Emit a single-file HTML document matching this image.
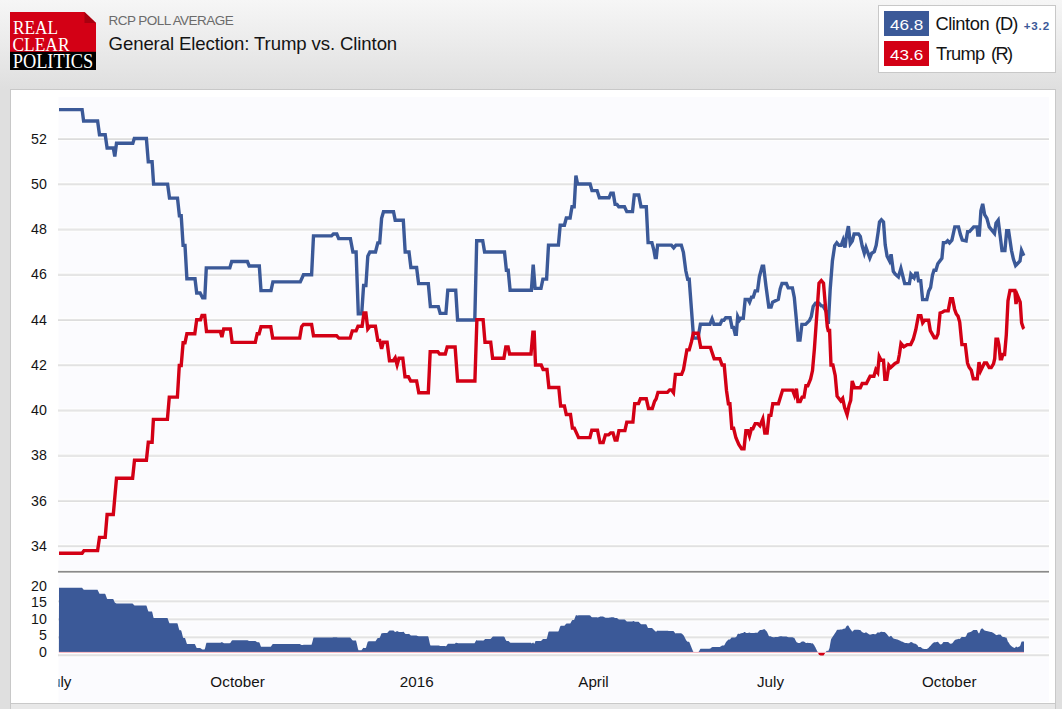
<!DOCTYPE html>
<html><head><meta charset="utf-8"><title>RCP Poll Average</title>
<style>
html,body{margin:0;padding:0}
body{width:1062px;height:709px;overflow:hidden;position:relative;font-family:"Liberation Sans",sans-serif;
background:linear-gradient(to bottom,#f6f6f6 0px,#ececec 40px,#dfdfdf 89px,#dfdfdf 709px);}
#outer{position:absolute;left:10px;top:89px;width:1046px;height:640px;background:#e8e8e8;border:1px solid #c8c8c8;box-sizing:border-box}
#card{position:absolute;left:0;top:0;width:1044px;height:613px;background:#fff;border-bottom:1px solid #c9c9c9}
#logo{position:absolute;left:10px;top:12px;width:86px;height:58px}
</style></head><body>
<div id="outer"><div id="card"></div></div>
<svg width="1062" height="709" viewBox="0 0 1062 709" style="position:absolute;left:0;top:0">
<rect x="58.5" y="97" width="990.5" height="605" fill="#fbfbfe"/>
<rect x="58.5" y="136.80" width="990.5" height="4.4" fill="#fefefe"/>
<rect x="58" y="138.00" width="991.0" height="1" fill="#e4e4e4"/>
<rect x="58" y="139.00" width="991.0" height="1" fill="#dcdcdc"/>
<rect x="58.5" y="182.04" width="990.5" height="4.4" fill="#fefefe"/>
<rect x="58" y="183.24" width="991.0" height="1" fill="#e4e4e4"/>
<rect x="58" y="184.24" width="991.0" height="1" fill="#dcdcdc"/>
<rect x="58.5" y="227.28" width="990.5" height="4.4" fill="#fefefe"/>
<rect x="58" y="228.48" width="991.0" height="1" fill="#e4e4e4"/>
<rect x="58" y="229.48" width="991.0" height="1" fill="#dcdcdc"/>
<rect x="58.5" y="272.52" width="990.5" height="4.4" fill="#fefefe"/>
<rect x="58" y="273.72" width="991.0" height="1" fill="#e4e4e4"/>
<rect x="58" y="274.72" width="991.0" height="1" fill="#dcdcdc"/>
<rect x="58.5" y="317.76" width="990.5" height="4.4" fill="#fefefe"/>
<rect x="58" y="318.96" width="991.0" height="1" fill="#e4e4e4"/>
<rect x="58" y="319.96" width="991.0" height="1" fill="#dcdcdc"/>
<rect x="58.5" y="363.00" width="990.5" height="4.4" fill="#fefefe"/>
<rect x="58" y="364.20" width="991.0" height="1" fill="#e4e4e4"/>
<rect x="58" y="365.20" width="991.0" height="1" fill="#dcdcdc"/>
<rect x="58.5" y="408.24" width="990.5" height="4.4" fill="#fefefe"/>
<rect x="58" y="409.44" width="991.0" height="1" fill="#e4e4e4"/>
<rect x="58" y="410.44" width="991.0" height="1" fill="#dcdcdc"/>
<rect x="58.5" y="453.48" width="990.5" height="4.4" fill="#fefefe"/>
<rect x="58" y="454.68" width="991.0" height="1" fill="#e4e4e4"/>
<rect x="58" y="455.68" width="991.0" height="1" fill="#dcdcdc"/>
<rect x="58.5" y="498.72" width="990.5" height="4.4" fill="#fefefe"/>
<rect x="58" y="499.92" width="991.0" height="1" fill="#e4e4e4"/>
<rect x="58" y="500.92" width="991.0" height="1" fill="#dcdcdc"/>
<rect x="58.5" y="543.96" width="990.5" height="4.4" fill="#fefefe"/>
<rect x="58" y="545.16" width="991.0" height="1" fill="#e4e4e4"/>
<rect x="58" y="546.16" width="991.0" height="1" fill="#dcdcdc"/>
<rect x="58.5" y="599.10" width="990.5" height="4.4" fill="#fefefe"/>
<rect x="58" y="600.30" width="991.0" height="1" fill="#e4e4e4"/>
<rect x="58" y="601.30" width="991.0" height="1" fill="#dcdcdc"/>
<rect x="58.5" y="617.10" width="990.5" height="4.4" fill="#fefefe"/>
<rect x="58" y="618.30" width="991.0" height="1" fill="#e4e4e4"/>
<rect x="58" y="619.30" width="991.0" height="1" fill="#dcdcdc"/>
<rect x="58.5" y="635.10" width="990.5" height="4.4" fill="#fefefe"/>
<rect x="58" y="636.30" width="991.0" height="1" fill="#e4e4e4"/>
<rect x="58" y="637.30" width="991.0" height="1" fill="#dcdcdc"/>
<rect x="58.5" y="653.00" width="990.5" height="4.4" fill="#fefefe"/>
<rect x="58" y="654.20" width="991.0" height="1" fill="#e4e4e4"/>
<rect x="58" y="655.20" width="991.0" height="1" fill="#dcdcdc"/>
<rect x="58.5" y="569.6" width="990.5" height="4.6" fill="#fefefe"/>
<rect x="58" y="570.9" width="991.0" height="1.1" fill="#8a8a8a"/>
<rect x="58" y="572" width="991.0" height="0.9" fill="#adadad"/>
<path d="M58.9,652.0 L59.0,587.8 L59.5,587.8 L60.0,587.8 L60.5,587.8 L61.0,587.8 L61.5,587.8 L62.0,587.8 L62.5,587.8 L63.0,587.8 L63.5,587.8 L64.0,587.8 L64.5,587.8 L65.0,587.8 L65.5,587.8 L66.0,587.8 L66.5,587.8 L67.0,587.8 L67.5,587.8 L68.0,587.8 L68.5,587.8 L69.0,587.8 L69.5,587.8 L70.0,587.8 L70.5,587.8 L71.0,587.8 L71.5,587.8 L72.0,587.8 L72.5,587.8 L73.0,587.8 L73.5,587.8 L74.0,587.8 L74.5,587.8 L75.0,587.8 L75.5,587.8 L76.0,587.8 L76.5,587.8 L77.0,587.8 L77.5,587.8 L78.0,587.8 L78.5,587.8 L79.0,587.8 L79.5,587.8 L80.0,587.8 L80.5,587.8 L81.0,587.8 L81.5,587.8 L82.0,587.8 L82.5,588.3 L83.0,589.0 L83.5,589.6 L84.0,589.8 L84.5,589.8 L85.0,589.8 L85.5,589.8 L86.0,589.8 L86.5,589.8 L87.0,589.8 L87.5,589.8 L88.0,589.8 L88.5,589.8 L89.0,589.8 L89.5,589.8 L90.0,589.8 L90.5,589.8 L91.0,589.8 L91.5,589.8 L92.0,589.8 L92.5,589.8 L93.0,589.8 L93.5,589.8 L94.0,589.8 L94.5,589.8 L95.0,589.8 L95.5,589.8 L96.0,589.8 L96.5,589.8 L97.0,589.8 L97.5,589.8 L98.0,590.7 L98.5,591.7 L99.0,592.7 L99.5,593.7 L100.0,593.7 L100.5,593.7 L101.0,593.7 L101.5,593.7 L102.0,593.7 L102.5,593.7 L103.0,593.7 L103.5,593.7 L104.0,593.7 L104.5,593.7 L105.0,593.7 L105.5,594.6 L106.0,595.9 L106.5,597.3 L107.0,598.7 L107.5,599.0 L108.0,599.0 L108.5,599.0 L109.0,599.0 L109.5,599.0 L110.0,599.0 L110.5,599.0 L111.0,599.0 L111.5,599.0 L112.0,599.0 L112.5,599.0 L113.0,599.0 L113.5,599.5 L114.0,600.7 L114.5,601.9 L115.0,602.8 L115.5,603.0 L116.0,603.3 L116.5,603.5 L117.0,603.5 L117.5,603.5 L118.0,603.5 L118.5,603.5 L119.0,603.5 L119.5,603.5 L120.0,603.5 L120.5,603.5 L121.0,603.5 L121.5,603.5 L122.0,603.5 L122.5,603.5 L123.0,603.5 L123.5,603.5 L124.0,603.5 L124.5,603.5 L125.0,603.5 L125.5,603.5 L126.0,603.5 L126.5,603.5 L127.0,603.5 L127.5,603.5 L128.0,603.5 L128.5,603.5 L129.0,603.5 L129.5,603.5 L130.0,603.5 L130.5,603.5 L131.0,603.5 L131.5,603.5 L132.0,603.5 L132.5,603.5 L133.0,604.0 L133.5,604.5 L134.0,604.9 L134.5,605.5 L135.0,605.5 L135.5,605.5 L136.0,605.5 L136.5,605.5 L137.0,605.5 L137.5,605.5 L138.0,605.5 L138.5,605.5 L139.0,605.5 L139.5,605.5 L140.0,605.5 L140.5,605.5 L141.0,605.5 L141.5,605.5 L142.0,605.5 L142.5,605.5 L143.0,605.5 L143.5,605.5 L144.0,605.5 L144.5,605.5 L145.0,605.5 L145.5,605.5 L146.0,605.5 L146.5,605.8 L147.0,607.3 L147.5,608.9 L148.0,610.5 L148.5,611.4 L149.0,611.4 L149.5,611.4 L150.0,611.4 L150.5,611.4 L151.0,611.4 L151.5,611.4 L152.0,611.4 L152.5,613.3 L153.0,615.6 L153.5,617.7 L154.0,618.0 L154.5,618.0 L155.0,618.0 L155.5,618.0 L156.0,618.0 L156.5,618.0 L157.0,618.0 L157.5,618.0 L158.0,618.0 L158.5,618.0 L159.0,618.0 L159.5,618.0 L160.0,618.0 L160.5,618.0 L161.0,618.0 L161.5,618.0 L162.0,618.0 L162.5,618.0 L163.0,618.0 L163.5,618.0 L164.0,618.0 L164.5,618.0 L165.0,618.0 L165.5,618.0 L166.0,618.0 L166.5,618.0 L167.0,618.0 L167.5,618.1 L168.0,619.4 L168.5,620.8 L169.0,622.2 L169.5,623.2 L170.0,623.2 L170.5,623.2 L171.0,623.2 L171.5,623.2 L172.0,623.2 L172.5,623.2 L173.0,623.2 L173.5,623.2 L174.0,623.2 L174.5,623.2 L175.0,623.2 L175.5,623.2 L176.0,623.2 L176.5,623.2 L177.0,623.2 L177.5,623.4 L178.0,625.3 L178.5,627.2 L179.0,629.1 L179.5,630.3 L180.0,630.3 L180.5,630.3 L181.0,630.3 L181.5,631.5 L182.0,633.5 L182.5,635.5 L183.0,637.5 L183.5,637.9 L184.0,637.9 L184.5,637.9 L185.0,637.9 L185.5,639.5 L186.0,641.1 L186.5,642.8 L187.0,644.1 L187.5,644.1 L188.0,644.1 L188.5,644.1 L189.0,644.1 L189.5,644.1 L190.0,644.1 L190.5,644.1 L191.0,644.1 L191.5,644.1 L192.0,644.1 L192.5,644.1 L193.0,644.1 L193.5,644.1 L194.0,644.1 L194.5,644.1 L195.0,644.3 L195.5,645.4 L196.0,646.5 L196.5,647.7 L197.0,648.1 L197.5,648.1 L198.0,648.1 L198.5,648.1 L199.0,648.1 L199.5,648.1 L200.0,648.1 L200.5,648.2 L201.0,648.6 L201.5,648.9 L202.0,649.3 L202.5,649.4 L203.0,649.4 L203.5,649.4 L204.0,649.4 L204.5,649.4 L205.0,648.5 L205.5,646.4 L206.0,644.3 L206.5,642.8 L207.0,642.8 L207.5,642.8 L208.0,642.8 L208.5,642.8 L209.0,642.8 L209.5,642.8 L210.0,642.8 L210.5,642.8 L211.0,642.8 L211.5,642.8 L212.0,642.8 L212.5,642.8 L213.0,642.8 L213.5,642.8 L214.0,642.8 L214.5,642.8 L215.0,642.8 L215.5,642.8 L216.0,642.8 L216.5,642.8 L217.0,642.8 L217.5,642.8 L218.0,642.8 L218.5,642.8 L219.0,642.8 L219.5,642.8 L220.0,642.8 L220.5,642.7 L221.0,642.4 L221.5,642.2 L222.0,642.1 L222.5,642.4 L223.0,642.7 L223.5,643.0 L224.0,643.2 L224.5,643.2 L225.0,643.2 L225.5,643.2 L226.0,643.2 L226.5,643.2 L227.0,643.2 L227.5,643.2 L228.0,643.2 L228.5,643.2 L229.0,643.2 L229.5,643.2 L230.0,643.1 L230.5,642.7 L231.0,641.9 L231.5,641.1 L232.0,640.4 L232.5,640.3 L233.0,640.3 L233.5,640.3 L234.0,640.3 L234.5,640.3 L235.0,640.3 L235.5,640.3 L236.0,640.3 L236.5,640.3 L237.0,640.3 L237.5,640.3 L238.0,640.3 L238.5,640.3 L239.0,640.3 L239.5,640.3 L240.0,640.3 L240.5,640.3 L241.0,640.3 L241.5,640.3 L242.0,640.3 L242.5,640.3 L243.0,640.3 L243.5,640.3 L244.0,640.3 L244.5,640.3 L245.0,640.3 L245.5,640.3 L246.0,640.3 L246.5,640.3 L247.0,640.3 L247.5,640.3 L248.0,640.5 L248.5,640.7 L249.0,640.9 L249.5,640.9 L250.0,640.9 L250.5,640.9 L251.0,640.9 L251.5,640.9 L252.0,640.9 L252.5,640.9 L253.0,640.9 L253.5,640.9 L254.0,640.9 L254.5,640.9 L255.0,640.9 L255.5,641.1 L256.0,641.4 L256.5,641.7 L257.0,642.1 L257.5,642.2 L258.0,642.2 L258.5,642.2 L259.0,642.2 L259.5,642.8 L260.0,644.1 L260.5,645.5 L261.0,646.8 L261.5,646.8 L262.0,646.8 L262.5,646.8 L263.0,646.8 L263.5,646.8 L264.0,646.8 L264.5,646.8 L265.0,646.8 L265.5,646.8 L266.0,646.8 L266.5,646.8 L267.0,646.8 L267.5,646.8 L268.0,646.8 L268.5,646.8 L269.0,646.8 L269.5,646.8 L270.0,646.8 L270.5,646.8 L271.0,646.6 L271.5,645.8 L272.0,645.1 L272.5,644.3 L273.0,643.9 L273.5,643.9 L274.0,643.9 L274.5,643.9 L275.0,643.9 L275.5,643.9 L276.0,643.9 L276.5,643.9 L277.0,643.9 L277.5,643.9 L278.0,643.9 L278.5,643.9 L279.0,643.9 L279.5,643.9 L280.0,643.9 L280.5,643.9 L281.0,643.9 L281.5,643.9 L282.0,643.9 L282.5,643.9 L283.0,643.9 L283.5,643.9 L284.0,643.9 L284.5,643.9 L285.0,643.9 L285.5,643.9 L286.0,643.9 L286.5,643.9 L287.0,643.9 L287.5,643.9 L288.0,643.9 L288.5,643.9 L289.0,643.9 L289.5,643.9 L290.0,643.9 L290.5,643.9 L291.0,643.9 L291.5,643.9 L292.0,643.9 L292.5,643.9 L293.0,643.9 L293.5,643.9 L294.0,643.9 L294.5,643.9 L295.0,643.9 L295.5,643.9 L296.0,643.9 L296.5,643.9 L297.0,643.9 L297.5,643.9 L298.0,643.9 L298.5,643.9 L299.0,643.9 L299.5,643.9 L300.0,644.1 L300.5,644.5 L301.0,644.8 L301.5,645.0 L302.0,645.0 L302.5,645.0 L303.0,644.9 L303.5,644.8 L304.0,644.8 L304.5,644.8 L305.0,644.8 L305.5,644.8 L306.0,644.8 L306.5,644.8 L307.0,644.8 L307.5,644.8 L308.0,644.8 L308.5,644.8 L309.0,644.8 L309.5,644.8 L310.0,644.8 L310.5,644.8 L311.0,644.8 L311.5,644.8 L312.0,643.3 L312.5,641.4 L313.0,639.5 L313.5,637.5 L314.0,637.5 L314.5,637.5 L315.0,637.5 L315.5,637.5 L316.0,637.5 L316.5,637.5 L317.0,637.5 L317.5,637.5 L318.0,637.5 L318.5,637.5 L319.0,637.5 L319.5,637.5 L320.0,637.5 L320.5,637.5 L321.0,637.5 L321.5,637.5 L322.0,637.5 L322.5,637.5 L323.0,637.5 L323.5,637.5 L324.0,637.5 L324.5,637.5 L325.0,637.5 L325.5,637.5 L326.0,637.5 L326.5,637.5 L327.0,637.5 L327.5,637.5 L328.0,637.5 L328.5,637.5 L329.0,637.5 L329.5,637.5 L330.0,637.5 L330.5,637.5 L331.0,637.5 L331.5,637.5 L332.0,637.5 L332.5,637.4 L333.0,637.3 L333.5,637.3 L334.0,637.3 L334.5,637.3 L335.0,637.3 L335.5,637.3 L336.0,637.3 L336.5,637.3 L337.0,637.3 L337.5,637.4 L338.0,637.5 L338.5,637.6 L339.0,637.6 L339.5,637.6 L340.0,637.6 L340.5,637.6 L341.0,637.6 L341.5,637.6 L342.0,637.6 L342.5,637.6 L343.0,637.6 L343.5,637.6 L344.0,637.6 L344.5,637.6 L345.0,637.6 L345.5,637.6 L346.0,637.6 L346.5,637.6 L347.0,637.6 L347.5,637.6 L348.0,637.6 L348.5,637.6 L349.0,637.6 L349.5,637.6 L350.0,637.6 L350.5,637.8 L351.0,638.5 L351.5,639.1 L352.0,639.7 L352.5,640.3 L353.0,640.6 L353.5,640.6 L354.0,640.6 L354.5,640.6 L355.0,640.6 L355.5,640.6 L356.0,640.6 L356.5,642.4 L357.0,644.6 L357.5,646.8 L358.0,649.0 L358.5,650.2 L359.0,650.2 L359.5,650.2 L360.0,650.2 L360.5,650.2 L361.0,650.2 L361.5,650.2 L362.0,649.6 L362.5,648.9 L363.0,648.3 L363.5,647.7 L364.0,648.0 L364.5,648.0 L365.0,648.0 L365.5,648.0 L366.0,647.7 L366.5,646.0 L367.0,644.2 L367.5,642.5 L368.0,641.4 L368.5,641.4 L369.0,641.3 L369.5,641.3 L370.0,641.2 L370.5,641.3 L371.0,641.3 L371.5,641.3 L372.0,641.3 L372.5,641.3 L373.0,641.3 L373.5,641.3 L374.0,641.3 L374.5,641.3 L375.0,641.3 L375.5,641.2 L376.0,640.5 L376.5,639.7 L377.0,639.0 L377.5,638.3 L378.0,637.9 L378.5,637.9 L379.0,637.9 L379.5,637.9 L380.0,637.1 L380.5,635.9 L381.0,634.6 L381.5,633.4 L382.0,633.1 L382.5,633.2 L383.0,633.2 L383.5,633.1 L384.0,633.1 L384.5,633.1 L385.0,633.1 L385.5,633.1 L386.0,633.1 L386.5,633.1 L387.0,633.1 L387.5,632.7 L388.0,632.1 L388.5,631.5 L389.0,631.0 L389.5,630.4 L390.0,630.4 L390.5,630.4 L391.0,630.4 L391.5,630.4 L392.0,630.4 L392.5,630.4 L393.0,630.4 L393.5,630.5 L394.0,630.9 L394.5,631.4 L395.0,631.9 L395.5,631.9 L396.0,631.6 L396.5,631.4 L397.0,631.1 L397.5,631.3 L398.0,631.5 L398.5,631.8 L399.0,632.0 L399.5,632.0 L400.0,632.0 L400.5,632.0 L401.0,632.0 L401.5,632.0 L402.0,632.0 L402.5,632.0 L403.0,631.8 L403.5,631.7 L404.0,632.3 L404.5,632.9 L405.0,633.5 L405.5,634.0 L406.0,634.0 L406.5,634.0 L407.0,634.0 L407.5,634.0 L408.0,634.0 L408.5,633.9 L409.0,633.8 L409.5,634.2 L410.0,634.7 L410.5,635.2 L411.0,635.6 L411.5,635.6 L412.0,635.6 L412.5,635.6 L413.0,635.6 L413.5,635.6 L414.0,635.6 L414.5,635.6 L415.0,635.6 L415.5,635.6 L416.0,635.6 L416.5,635.6 L417.0,635.7 L417.5,635.9 L418.0,636.1 L418.5,636.3 L419.0,636.2 L419.5,636.2 L420.0,636.2 L420.5,636.2 L421.0,636.2 L421.5,636.2 L422.0,636.2 L422.5,636.2 L423.0,636.2 L423.5,636.2 L424.0,636.2 L424.5,636.2 L425.0,636.2 L425.5,636.2 L426.0,636.2 L426.5,636.2 L427.0,636.2 L427.5,636.2 L428.0,636.2 L428.5,637.2 L429.0,639.5 L429.5,641.9 L430.0,644.2 L430.5,645.5 L431.0,645.5 L431.5,645.5 L432.0,645.5 L432.5,645.5 L433.0,645.5 L433.5,645.5 L434.0,645.5 L434.5,645.5 L435.0,645.5 L435.5,645.5 L436.0,645.5 L436.5,645.5 L437.0,645.5 L437.5,645.5 L438.0,645.4 L438.5,645.4 L439.0,645.6 L439.5,645.8 L440.0,646.0 L440.5,646.1 L441.0,646.1 L441.5,646.1 L442.0,646.1 L442.5,646.1 L443.0,646.1 L443.5,646.1 L444.0,646.1 L444.5,646.1 L445.0,646.1 L445.5,646.2 L446.0,646.3 L446.5,645.7 L447.0,645.1 L447.5,644.3 L448.0,643.8 L448.5,643.8 L449.0,643.8 L449.5,643.8 L450.0,643.8 L450.5,643.8 L451.0,643.8 L451.5,643.8 L452.0,643.8 L452.5,643.8 L453.0,643.8 L453.5,643.8 L454.0,643.8 L454.5,643.8 L455.0,643.8 L455.5,643.0 L456.0,642.7 L456.5,642.8 L457.0,643.0 L457.5,643.1 L458.0,643.2 L458.5,643.2 L459.0,643.2 L459.5,643.2 L460.0,643.2 L460.5,643.2 L461.0,643.2 L461.5,643.2 L462.0,643.2 L462.5,643.2 L463.0,643.2 L463.5,643.2 L464.0,643.2 L464.5,643.2 L465.0,643.2 L465.5,643.2 L466.0,643.2 L466.5,643.2 L467.0,643.2 L467.5,643.2 L468.0,643.2 L468.5,643.2 L469.0,643.2 L469.5,643.2 L470.0,643.2 L470.5,643.2 L471.0,643.2 L471.5,643.2 L472.0,643.2 L472.5,643.2 L473.0,643.2 L473.5,643.2 L474.0,643.2 L474.5,643.2 L475.0,642.4 L475.5,641.6 L476.0,640.8 L476.5,640.0 L477.0,640.6 L477.5,640.6 L478.0,640.6 L478.5,640.6 L479.0,640.6 L479.5,640.6 L480.0,640.6 L480.5,640.6 L481.0,640.6 L481.5,640.6 L482.0,640.6 L482.5,640.6 L483.0,640.8 L483.5,640.6 L484.0,640.1 L484.5,639.7 L485.0,638.9 L485.5,638.9 L486.0,638.9 L486.5,638.9 L487.0,638.9 L487.5,638.9 L488.0,638.9 L488.5,638.9 L489.0,638.9 L489.5,638.9 L490.0,638.9 L490.5,638.9 L491.0,638.6 L491.5,638.0 L492.0,637.4 L492.5,636.7 L493.0,636.6 L493.5,636.6 L494.0,636.6 L494.5,636.6 L495.0,636.6 L495.5,636.6 L496.0,636.6 L496.5,636.6 L497.0,636.6 L497.5,636.6 L498.0,636.6 L498.5,636.6 L499.0,636.6 L499.5,636.6 L500.0,636.6 L500.5,636.6 L501.0,636.6 L501.5,636.6 L502.0,636.6 L502.5,636.6 L503.0,636.6 L503.5,636.6 L504.0,636.7 L504.5,637.1 L505.0,638.3 L505.5,639.4 L506.0,640.3 L506.5,640.9 L507.0,640.9 L507.5,640.9 L508.0,640.9 L508.5,641.1 L509.0,641.5 L509.5,641.9 L510.0,642.6 L510.5,642.8 L511.0,642.8 L511.5,642.8 L512.0,642.8 L512.5,642.8 L513.0,642.8 L513.5,642.8 L514.0,642.8 L514.5,642.8 L515.0,642.8 L515.5,642.8 L516.0,642.8 L516.5,642.8 L517.0,642.8 L517.5,642.8 L518.0,642.8 L518.5,642.8 L519.0,642.8 L519.5,642.8 L520.0,642.8 L520.5,642.8 L521.0,642.8 L521.5,642.8 L522.0,642.8 L522.5,642.8 L523.0,642.8 L523.5,642.8 L524.0,642.8 L524.5,642.8 L525.0,642.8 L525.5,642.8 L526.0,642.8 L526.5,642.8 L527.0,642.8 L527.5,642.8 L528.0,642.8 L528.5,642.8 L529.0,642.8 L529.5,642.8 L530.0,642.8 L530.5,642.8 L531.0,642.8 L531.5,643.4 L532.0,643.2 L532.5,643.0 L533.0,642.6 L533.5,642.7 L534.0,643.7 L534.5,643.5 L535.0,642.6 L535.5,640.9 L536.0,640.9 L536.5,640.9 L537.0,640.9 L537.5,640.9 L538.0,640.9 L538.5,640.9 L539.0,640.9 L539.5,640.9 L540.0,640.9 L540.5,640.9 L541.0,640.9 L541.5,640.5 L542.0,639.9 L542.5,639.4 L543.0,639.0 L543.5,638.9 L544.0,638.9 L544.5,638.9 L545.0,638.9 L545.5,638.9 L546.0,638.9 L546.5,638.9 L547.0,637.9 L547.5,635.9 L548.0,633.9 L548.5,631.9 L549.0,631.4 L549.5,631.4 L550.0,631.4 L550.5,631.4 L551.0,631.4 L551.5,631.4 L552.0,631.4 L552.5,631.4 L553.0,631.4 L553.5,631.4 L554.0,631.4 L554.5,631.4 L555.0,631.4 L555.5,631.4 L556.0,631.4 L556.5,631.4 L557.0,631.4 L557.5,631.4 L558.0,631.4 L558.5,631.2 L559.0,630.1 L559.5,628.6 L560.0,627.1 L560.5,626.0 L561.0,625.8 L561.5,625.8 L562.0,625.8 L562.5,625.8 L563.0,625.8 L563.5,625.8 L564.0,625.8 L564.5,625.7 L565.0,625.1 L565.5,624.5 L566.0,623.9 L566.5,623.6 L567.0,623.6 L567.5,623.6 L568.0,623.6 L568.5,623.6 L569.0,623.6 L569.5,623.6 L570.0,623.6 L570.5,623.2 L571.0,622.3 L571.5,621.3 L572.0,620.4 L572.5,620.0 L573.0,620.0 L573.5,620.0 L574.0,620.0 L574.5,619.1 L575.0,617.6 L575.5,616.2 L576.0,615.0 L576.5,615.2 L577.0,615.4 L577.5,615.6 L578.0,615.5 L578.5,615.3 L579.0,615.3 L579.5,615.3 L580.0,615.3 L580.5,615.3 L581.0,615.3 L581.5,615.3 L582.0,615.3 L582.5,615.3 L583.0,615.3 L583.5,615.3 L584.0,615.3 L584.5,615.3 L585.0,615.3 L585.5,615.3 L586.0,615.3 L586.5,615.3 L587.0,615.3 L587.5,615.3 L588.0,615.3 L588.5,615.3 L589.0,615.3 L589.5,615.3 L590.0,615.4 L590.5,615.8 L591.0,616.4 L591.5,616.9 L592.0,617.3 L592.5,617.3 L593.0,617.3 L593.5,617.3 L594.0,617.3 L594.5,617.3 L595.0,617.3 L595.5,617.3 L596.0,617.3 L596.5,617.3 L597.0,617.3 L597.5,617.5 L598.0,617.4 L598.5,617.3 L599.0,617.1 L599.5,617.0 L600.0,616.6 L600.5,616.6 L601.0,616.6 L601.5,616.6 L602.0,616.6 L602.5,616.6 L603.0,616.6 L603.5,616.7 L604.0,617.0 L604.5,617.2 L605.0,617.5 L605.5,617.7 L606.0,617.7 L606.5,617.7 L607.0,617.7 L607.5,617.7 L608.0,617.7 L608.5,617.7 L609.0,617.8 L609.5,617.6 L610.0,617.5 L610.5,617.4 L611.0,617.3 L611.5,617.3 L612.0,617.3 L612.5,617.3 L613.0,617.3 L613.5,617.3 L614.0,617.5 L614.5,617.7 L615.0,617.9 L615.5,617.9 L616.0,617.9 L616.5,617.9 L617.0,617.9 L617.5,618.4 L618.0,618.8 L618.5,619.3 L619.0,619.6 L619.5,619.6 L620.0,619.6 L620.5,619.6 L621.0,619.6 L621.5,619.6 L622.0,619.6 L622.5,619.6 L623.0,619.6 L623.5,619.6 L624.0,619.6 L624.5,619.6 L625.0,619.8 L625.5,620.3 L626.0,620.8 L626.5,621.3 L627.0,621.5 L627.5,621.5 L628.0,621.5 L628.5,621.5 L629.0,621.5 L629.5,621.5 L630.0,621.5 L630.5,621.5 L631.0,621.5 L631.5,621.5 L632.0,621.5 L632.5,621.5 L633.0,621.0 L633.5,621.1 L634.0,621.2 L634.5,621.5 L635.0,621.8 L635.5,621.8 L636.0,621.8 L636.5,621.8 L637.0,621.8 L637.5,621.8 L638.0,621.8 L638.5,621.8 L639.0,622.2 L639.5,622.8 L640.0,623.3 L640.5,623.8 L641.0,624.2 L641.5,624.2 L642.0,624.2 L642.5,624.2 L643.0,624.2 L643.5,624.2 L644.0,624.2 L644.5,624.2 L645.0,624.2 L645.5,624.2 L646.0,624.2 L646.5,624.7 L647.0,625.8 L647.5,626.9 L648.0,628.0 L648.5,628.0 L649.0,628.0 L649.5,628.0 L650.0,628.0 L650.5,628.0 L651.0,628.0 L651.5,628.0 L652.0,628.1 L652.5,628.4 L653.0,628.9 L653.5,629.4 L654.0,630.0 L654.5,630.6 L655.0,631.1 L655.5,631.4 L656.0,631.5 L656.5,631.5 L657.0,631.0 L657.5,630.6 L658.0,630.7 L658.5,630.7 L659.0,630.7 L659.5,630.7 L660.0,630.7 L660.5,630.7 L661.0,630.7 L661.5,630.7 L662.0,630.7 L662.5,630.7 L663.0,630.7 L663.5,630.7 L664.0,630.7 L664.5,630.7 L665.0,630.7 L665.5,630.7 L666.0,630.7 L666.5,630.7 L667.0,630.7 L667.5,630.7 L668.0,630.8 L668.5,630.9 L669.0,630.9 L669.5,631.0 L670.0,631.0 L670.5,631.0 L671.0,631.0 L671.5,631.1 L672.0,631.1 L672.5,631.1 L673.0,631.0 L673.5,631.0 L674.0,631.7 L674.5,632.3 L675.0,632.9 L675.5,633.4 L676.0,633.3 L676.5,633.3 L677.0,633.3 L677.5,633.3 L678.0,633.3 L678.5,633.3 L679.0,633.3 L679.5,633.3 L680.0,633.3 L680.5,633.3 L681.0,633.3 L681.5,633.4 L682.0,633.8 L682.5,634.2 L683.0,634.7 L683.5,635.2 L684.0,636.1 L684.5,637.1 L685.0,638.1 L685.5,639.1 L686.0,639.9 L686.5,640.7 L687.0,641.3 L687.5,641.7 L688.0,641.8 L688.5,641.8 L689.0,641.8 L689.5,642.5 L690.0,643.7 L690.5,645.0 L691.0,646.2 L691.5,647.4 L692.0,648.7 L692.5,650.0 L693.0,651.3 L693.5,652.0 L694.0,652.0 L694.5,652.0 L695.0,652.0 L695.5,652.0 L696.0,652.0 L696.5,652.0 L697.0,652.0 L697.5,652.0 L698.0,652.0 L698.5,652.0 L699.0,651.2 L699.5,650.4 L700.0,649.5 L700.5,648.8 L701.0,648.7 L701.5,648.7 L702.0,648.7 L702.5,648.7 L703.0,648.7 L703.5,648.7 L704.0,648.7 L704.5,648.7 L705.0,648.7 L705.5,648.7 L706.0,648.7 L706.5,648.7 L707.0,648.7 L707.5,648.7 L708.0,648.7 L708.5,648.7 L709.0,648.7 L709.5,648.7 L710.0,648.6 L710.5,648.4 L711.0,648.0 L711.5,647.6 L712.0,647.2 L712.5,647.1 L713.0,647.1 L713.5,647.1 L714.0,647.1 L714.5,647.0 L715.0,647.0 L715.5,647.0 L716.0,647.0 L716.5,647.0 L717.0,647.0 L717.5,647.0 L718.0,647.0 L718.5,647.0 L719.0,647.0 L719.5,647.0 L720.0,646.9 L720.5,646.6 L721.0,646.3 L721.5,645.9 L722.0,645.6 L722.5,645.5 L723.0,645.5 L723.5,645.5 L724.0,645.5 L724.5,644.9 L725.0,644.0 L725.5,643.1 L726.0,642.3 L726.5,641.5 L727.0,641.0 L727.5,640.5 L728.0,640.0 L728.5,639.6 L729.0,639.6 L729.5,639.6 L730.0,639.4 L730.5,638.7 L731.0,638.2 L731.5,637.6 L732.0,637.4 L732.5,637.4 L733.0,637.4 L733.5,637.4 L734.0,637.5 L734.5,637.5 L735.0,637.5 L735.5,637.3 L736.0,637.0 L736.5,636.5 L737.0,635.4 L737.5,634.3 L738.0,633.8 L738.5,633.8 L739.0,633.8 L739.5,633.9 L740.0,633.7 L740.5,633.5 L741.0,633.3 L741.5,633.2 L742.0,633.1 L742.5,633.1 L743.0,633.1 L743.5,632.8 L744.0,632.1 L744.5,632.1 L745.0,632.1 L745.5,632.5 L746.0,633.0 L746.5,633.0 L747.0,633.0 L747.5,633.0 L748.0,632.9 L748.5,632.8 L749.0,632.7 L749.5,632.6 L750.0,632.8 L750.5,632.9 L751.0,632.9 L751.5,633.0 L752.0,633.0 L752.5,633.0 L753.0,633.0 L753.5,633.1 L754.0,633.0 L754.5,632.9 L755.0,632.8 L755.5,632.8 L756.0,632.8 L756.5,632.8 L757.0,632.8 L757.5,632.8 L758.0,632.2 L758.5,631.6 L759.0,631.0 L759.5,630.4 L760.0,630.1 L760.5,630.0 L761.0,630.0 L761.5,629.9 L762.0,629.8 L762.5,629.8 L763.0,629.7 L763.5,629.2 L764.0,629.2 L764.5,629.3 L765.0,629.6 L765.5,630.2 L766.0,630.8 L766.5,631.3 L767.0,631.8 L767.5,632.9 L768.0,634.1 L768.5,635.3 L769.0,636.3 L769.5,636.3 L770.0,636.3 L770.5,636.3 L771.0,636.4 L771.5,636.7 L772.0,636.9 L772.5,637.1 L773.0,637.3 L773.5,637.2 L774.0,637.2 L774.5,637.2 L775.0,637.1 L775.5,637.1 L776.0,637.1 L776.5,637.0 L777.0,637.0 L777.5,637.0 L778.0,636.9 L778.5,636.8 L779.0,636.6 L779.5,636.5 L780.0,636.3 L780.5,636.3 L781.0,636.3 L781.5,636.3 L782.0,636.3 L782.5,636.5 L783.0,636.6 L783.5,636.6 L784.0,636.6 L784.5,636.6 L785.0,636.6 L785.5,636.6 L786.0,636.6 L786.5,636.6 L787.0,636.8 L787.5,637.0 L788.0,637.1 L788.5,637.2 L789.0,637.2 L789.5,637.2 L790.0,637.2 L790.5,637.2 L791.0,637.2 L791.5,637.2 L792.0,637.2 L792.5,637.3 L793.0,637.5 L793.5,637.7 L794.0,637.8 L794.5,638.2 L795.0,639.2 L795.5,640.2 L796.0,641.2 L796.5,642.1 L797.0,642.4 L797.5,642.6 L798.0,642.9 L798.5,643.1 L799.0,643.1 L799.5,643.1 L800.0,643.1 L800.5,642.6 L801.0,642.2 L801.5,641.8 L802.0,641.4 L802.5,641.5 L803.0,641.5 L803.5,641.5 L804.0,641.5 L804.5,641.9 L805.0,642.3 L805.5,642.8 L806.0,643.1 L806.5,643.0 L807.0,642.9 L807.5,642.8 L808.0,642.8 L808.5,642.9 L809.0,643.0 L809.5,643.1 L810.0,643.1 L810.5,643.1 L811.0,643.3 L811.5,643.4 L812.0,643.3 L812.5,643.2 L813.0,643.7 L813.5,644.3 L814.0,645.0 L814.5,645.8 L815.0,646.7 L815.5,647.6 L816.0,648.7 L816.5,649.7 L817.0,650.7 L817.5,651.8 L818.0,652.0 L818.5,652.0 L819.0,652.0 L819.5,652.0 L820.0,652.0 L820.5,652.0 L821.0,652.0 L821.5,652.0 L822.0,652.0 L822.5,652.0 L823.0,652.0 L823.5,652.0 L824.0,652.0 L824.5,652.0 L825.0,652.0 L825.5,652.0 L826.0,651.8 L826.5,651.1 L827.0,650.8 L827.5,650.7 L828.0,650.9 L828.5,650.5 L829.0,649.2 L829.5,647.9 L830.0,645.1 L830.5,642.2 L831.0,639.5 L831.5,638.6 L832.0,637.7 L832.5,636.9 L833.0,636.3 L833.5,635.5 L834.0,634.7 L834.5,633.9 L835.0,633.3 L835.5,632.6 L836.0,631.7 L836.5,630.8 L837.0,630.0 L837.5,629.8 L838.0,629.8 L838.5,629.8 L839.0,629.8 L839.5,629.7 L840.0,629.6 L840.5,629.5 L841.0,629.5 L841.5,629.5 L842.0,629.4 L842.5,629.3 L843.0,628.9 L843.5,628.8 L844.0,628.7 L844.5,628.6 L845.0,628.7 L845.5,627.9 L846.0,627.1 L846.5,626.3 L847.0,625.7 L847.5,625.6 L848.0,625.6 L848.5,625.8 L849.0,626.8 L849.5,627.7 L850.0,628.6 L850.5,629.2 L851.0,629.8 L851.5,630.6 L852.0,631.4 L852.5,631.5 L853.0,631.0 L853.5,630.5 L854.0,630.1 L854.5,629.8 L855.0,629.8 L855.5,629.8 L856.0,629.8 L856.5,629.8 L857.0,629.8 L857.5,629.8 L858.0,629.8 L858.5,629.8 L859.0,629.9 L859.5,630.0 L860.0,630.1 L860.5,630.3 L861.0,630.8 L861.5,631.4 L862.0,631.9 L862.5,632.3 L863.0,632.5 L863.5,632.8 L864.0,633.0 L864.5,633.0 L865.0,632.8 L865.5,632.6 L866.0,632.3 L866.5,632.6 L867.0,632.9 L867.5,633.2 L868.0,633.6 L868.5,633.9 L869.0,634.3 L869.5,634.6 L870.0,634.8 L870.5,634.6 L871.0,634.4 L871.5,634.3 L872.0,634.2 L872.5,634.1 L873.0,634.1 L873.5,634.0 L874.0,634.0 L874.5,634.2 L875.0,634.2 L875.5,634.2 L876.0,634.0 L876.5,633.5 L877.0,633.0 L877.5,632.4 L878.0,632.3 L878.5,632.5 L879.0,632.8 L879.5,632.5 L880.0,632.2 L880.5,632.0 L881.0,631.8 L881.5,631.7 L882.0,631.8 L882.5,631.9 L883.0,631.9 L883.5,632.0 L884.0,632.0 L884.5,632.0 L885.0,632.2 L885.5,632.8 L886.0,633.2 L886.5,633.7 L887.0,634.3 L887.5,635.0 L888.0,635.6 L888.5,636.2 L889.0,636.7 L889.5,636.8 L890.0,636.4 L890.5,636.0 L891.0,635.7 L891.5,636.2 L892.0,636.8 L892.5,637.4 L893.0,638.1 L893.5,638.5 L894.0,638.7 L894.5,638.8 L895.0,639.0 L895.5,639.1 L896.0,639.2 L896.5,639.3 L897.0,639.4 L897.5,639.5 L898.0,639.7 L898.5,640.1 L899.0,640.2 L899.5,640.4 L900.0,640.6 L900.5,640.9 L901.0,641.2 L901.5,641.4 L902.0,641.6 L902.5,641.8 L903.0,642.0 L903.5,642.2 L904.0,642.5 L904.5,642.8 L905.0,643.0 L905.5,643.0 L906.0,643.1 L906.5,643.1 L907.0,643.1 L907.5,643.2 L908.0,643.2 L908.5,643.2 L909.0,643.2 L909.5,643.1 L910.0,642.6 L910.5,642.2 L911.0,641.9 L911.5,642.1 L912.0,642.4 L912.5,642.6 L913.0,642.9 L913.5,643.2 L914.0,643.5 L914.5,643.6 L915.0,643.7 L915.5,643.7 L916.0,644.0 L916.5,644.4 L917.0,644.8 L917.5,645.3 L918.0,646.2 L918.5,646.9 L919.0,646.9 L919.5,646.9 L920.0,646.9 L920.5,646.9 L921.0,647.3 L921.5,647.7 L922.0,648.2 L922.5,648.6 L923.0,648.7 L923.5,648.8 L924.0,648.9 L924.5,649.0 L925.0,649.0 L925.5,649.0 L926.0,649.0 L926.5,649.0 L927.0,648.9 L927.5,648.6 L928.0,648.2 L928.5,647.9 L929.0,647.3 L929.5,646.8 L930.0,646.2 L930.5,645.7 L931.0,645.2 L931.5,644.6 L932.0,644.0 L932.5,643.4 L933.0,643.0 L933.5,642.7 L934.0,642.3 L934.5,642.2 L935.0,642.2 L935.5,642.2 L936.0,642.2 L936.5,642.0 L937.0,641.9 L937.5,641.8 L938.0,641.8 L938.5,642.4 L939.0,643.1 L939.5,643.7 L940.0,644.3 L940.5,644.4 L941.0,644.3 L941.5,644.2 L942.0,644.0 L942.5,643.3 L943.0,642.6 L943.5,642.0 L944.0,642.1 L944.5,642.1 L945.0,642.1 L945.5,642.1 L946.0,642.1 L946.5,642.0 L947.0,641.9 L947.5,641.9 L948.0,641.9 L948.5,642.2 L949.0,642.7 L949.5,643.2 L950.0,643.5 L950.5,643.8 L951.0,643.7 L951.5,643.6 L952.0,643.5 L952.5,643.1 L953.0,642.4 L953.5,641.7 L954.0,641.1 L954.5,640.4 L955.0,639.9 L955.5,639.7 L956.0,639.5 L956.5,639.4 L957.0,639.3 L957.5,639.2 L958.0,639.1 L958.5,638.8 L959.0,638.9 L959.5,638.9 L960.0,638.7 L960.5,638.2 L961.0,637.7 L961.5,637.1 L962.0,636.7 L962.5,636.9 L963.0,636.9 L963.5,636.9 L964.0,636.9 L964.5,637.0 L965.0,637.0 L965.5,636.7 L966.0,636.2 L966.5,635.2 L967.0,634.1 L967.5,633.1 L968.0,632.8 L968.5,632.6 L969.0,632.4 L969.5,632.3 L970.0,632.1 L970.5,631.9 L971.0,631.7 L971.5,631.5 L972.0,631.1 L972.5,630.7 L973.0,630.3 L973.5,630.1 L974.0,630.0 L974.5,630.0 L975.0,630.0 L975.5,630.0 L976.0,630.0 L976.5,630.0 L977.0,630.0 L977.5,631.0 L978.0,632.2 L978.5,632.9 L979.0,633.6 L979.5,632.8 L980.0,631.3 L980.5,629.9 L981.0,628.9 L981.5,628.8 L982.0,628.6 L982.5,628.5 L983.0,628.8 L983.5,629.4 L984.0,629.9 L984.5,630.4 L985.0,630.6 L985.5,630.7 L986.0,630.9 L986.5,631.0 L987.0,631.0 L987.5,631.2 L988.0,631.3 L988.5,631.4 L989.0,631.6 L989.5,631.7 L990.0,631.8 L990.5,631.9 L991.0,632.0 L991.5,632.1 L992.0,632.3 L992.5,632.5 L993.0,632.8 L993.5,633.0 L994.0,633.4 L994.5,633.8 L995.0,634.0 L995.5,634.6 L996.0,635.2 L996.5,635.1 L997.0,635.0 L997.5,634.9 L998.0,634.6 L998.5,634.6 L999.0,634.7 L999.5,634.6 L1000.0,634.5 L1000.5,634.6 L1001.0,635.2 L1001.5,635.8 L1002.0,636.5 L1002.5,636.8 L1003.0,637.0 L1003.5,637.0 L1004.0,637.0 L1004.5,637.0 L1005.0,637.5 L1005.5,637.5 L1006.0,637.5 L1006.5,637.8 L1007.0,639.0 L1007.5,640.4 L1008.0,641.9 L1008.5,642.2 L1009.0,643.0 L1009.5,643.9 L1010.0,644.7 L1010.5,645.2 L1011.0,645.7 L1011.5,646.2 L1012.0,646.5 L1012.5,646.9 L1013.0,647.2 L1013.5,647.5 L1014.0,647.7 L1014.5,647.9 L1015.0,647.8 L1015.5,647.2 L1016.0,646.4 L1016.5,646.7 L1017.0,647.0 L1017.5,647.4 L1018.0,647.1 L1018.5,646.9 L1019.0,646.6 L1019.5,646.4 L1020.0,646.1 L1020.5,644.9 L1021.0,643.3 L1021.5,641.7 L1022.0,641.5 L1022.5,641.5 L1023.0,641.4 L1023.5,641.4 L1024.0,641.4 L1024,652.0 Z" fill="#3b5998"/>
<path d="M58.9,652.0 L59.0,652.0 L59.5,652.0 L60.0,652.0 L60.5,652.0 L61.0,652.0 L61.5,652.0 L62.0,652.0 L62.5,652.0 L63.0,652.0 L63.5,652.0 L64.0,652.0 L64.5,652.0 L65.0,652.0 L65.5,652.0 L66.0,652.0 L66.5,652.0 L67.0,652.0 L67.5,652.0 L68.0,652.0 L68.5,652.0 L69.0,652.0 L69.5,652.0 L70.0,652.0 L70.5,652.0 L71.0,652.0 L71.5,652.0 L72.0,652.0 L72.5,652.0 L73.0,652.0 L73.5,652.0 L74.0,652.0 L74.5,652.0 L75.0,652.0 L75.5,652.0 L76.0,652.0 L76.5,652.0 L77.0,652.0 L77.5,652.0 L78.0,652.0 L78.5,652.0 L79.0,652.0 L79.5,652.0 L80.0,652.0 L80.5,652.0 L81.0,652.0 L81.5,652.0 L82.0,652.0 L82.5,652.0 L83.0,652.0 L83.5,652.0 L84.0,652.0 L84.5,652.0 L85.0,652.0 L85.5,652.0 L86.0,652.0 L86.5,652.0 L87.0,652.0 L87.5,652.0 L88.0,652.0 L88.5,652.0 L89.0,652.0 L89.5,652.0 L90.0,652.0 L90.5,652.0 L91.0,652.0 L91.5,652.0 L92.0,652.0 L92.5,652.0 L93.0,652.0 L93.5,652.0 L94.0,652.0 L94.5,652.0 L95.0,652.0 L95.5,652.0 L96.0,652.0 L96.5,652.0 L97.0,652.0 L97.5,652.0 L98.0,652.0 L98.5,652.0 L99.0,652.0 L99.5,652.0 L100.0,652.0 L100.5,652.0 L101.0,652.0 L101.5,652.0 L102.0,652.0 L102.5,652.0 L103.0,652.0 L103.5,652.0 L104.0,652.0 L104.5,652.0 L105.0,652.0 L105.5,652.0 L106.0,652.0 L106.5,652.0 L107.0,652.0 L107.5,652.0 L108.0,652.0 L108.5,652.0 L109.0,652.0 L109.5,652.0 L110.0,652.0 L110.5,652.0 L111.0,652.0 L111.5,652.0 L112.0,652.0 L112.5,652.0 L113.0,652.0 L113.5,652.0 L114.0,652.0 L114.5,652.0 L115.0,652.0 L115.5,652.0 L116.0,652.0 L116.5,652.0 L117.0,652.0 L117.5,652.0 L118.0,652.0 L118.5,652.0 L119.0,652.0 L119.5,652.0 L120.0,652.0 L120.5,652.0 L121.0,652.0 L121.5,652.0 L122.0,652.0 L122.5,652.0 L123.0,652.0 L123.5,652.0 L124.0,652.0 L124.5,652.0 L125.0,652.0 L125.5,652.0 L126.0,652.0 L126.5,652.0 L127.0,652.0 L127.5,652.0 L128.0,652.0 L128.5,652.0 L129.0,652.0 L129.5,652.0 L130.0,652.0 L130.5,652.0 L131.0,652.0 L131.5,652.0 L132.0,652.0 L132.5,652.0 L133.0,652.0 L133.5,652.0 L134.0,652.0 L134.5,652.0 L135.0,652.0 L135.5,652.0 L136.0,652.0 L136.5,652.0 L137.0,652.0 L137.5,652.0 L138.0,652.0 L138.5,652.0 L139.0,652.0 L139.5,652.0 L140.0,652.0 L140.5,652.0 L141.0,652.0 L141.5,652.0 L142.0,652.0 L142.5,652.0 L143.0,652.0 L143.5,652.0 L144.0,652.0 L144.5,652.0 L145.0,652.0 L145.5,652.0 L146.0,652.0 L146.5,652.0 L147.0,652.0 L147.5,652.0 L148.0,652.0 L148.5,652.0 L149.0,652.0 L149.5,652.0 L150.0,652.0 L150.5,652.0 L151.0,652.0 L151.5,652.0 L152.0,652.0 L152.5,652.0 L153.0,652.0 L153.5,652.0 L154.0,652.0 L154.5,652.0 L155.0,652.0 L155.5,652.0 L156.0,652.0 L156.5,652.0 L157.0,652.0 L157.5,652.0 L158.0,652.0 L158.5,652.0 L159.0,652.0 L159.5,652.0 L160.0,652.0 L160.5,652.0 L161.0,652.0 L161.5,652.0 L162.0,652.0 L162.5,652.0 L163.0,652.0 L163.5,652.0 L164.0,652.0 L164.5,652.0 L165.0,652.0 L165.5,652.0 L166.0,652.0 L166.5,652.0 L167.0,652.0 L167.5,652.0 L168.0,652.0 L168.5,652.0 L169.0,652.0 L169.5,652.0 L170.0,652.0 L170.5,652.0 L171.0,652.0 L171.5,652.0 L172.0,652.0 L172.5,652.0 L173.0,652.0 L173.5,652.0 L174.0,652.0 L174.5,652.0 L175.0,652.0 L175.5,652.0 L176.0,652.0 L176.5,652.0 L177.0,652.0 L177.5,652.0 L178.0,652.0 L178.5,652.0 L179.0,652.0 L179.5,652.0 L180.0,652.0 L180.5,652.0 L181.0,652.0 L181.5,652.0 L182.0,652.0 L182.5,652.0 L183.0,652.0 L183.5,652.0 L184.0,652.0 L184.5,652.0 L185.0,652.0 L185.5,652.0 L186.0,652.0 L186.5,652.0 L187.0,652.0 L187.5,652.0 L188.0,652.0 L188.5,652.0 L189.0,652.0 L189.5,652.0 L190.0,652.0 L190.5,652.0 L191.0,652.0 L191.5,652.0 L192.0,652.0 L192.5,652.0 L193.0,652.0 L193.5,652.0 L194.0,652.0 L194.5,652.0 L195.0,652.0 L195.5,652.0 L196.0,652.0 L196.5,652.0 L197.0,652.0 L197.5,652.0 L198.0,652.0 L198.5,652.0 L199.0,652.0 L199.5,652.0 L200.0,652.0 L200.5,652.0 L201.0,652.0 L201.5,652.0 L202.0,652.0 L202.5,652.0 L203.0,652.0 L203.5,652.0 L204.0,652.0 L204.5,652.0 L205.0,652.0 L205.5,652.0 L206.0,652.0 L206.5,652.0 L207.0,652.0 L207.5,652.0 L208.0,652.0 L208.5,652.0 L209.0,652.0 L209.5,652.0 L210.0,652.0 L210.5,652.0 L211.0,652.0 L211.5,652.0 L212.0,652.0 L212.5,652.0 L213.0,652.0 L213.5,652.0 L214.0,652.0 L214.5,652.0 L215.0,652.0 L215.5,652.0 L216.0,652.0 L216.5,652.0 L217.0,652.0 L217.5,652.0 L218.0,652.0 L218.5,652.0 L219.0,652.0 L219.5,652.0 L220.0,652.0 L220.5,652.0 L221.0,652.0 L221.5,652.0 L222.0,652.0 L222.5,652.0 L223.0,652.0 L223.5,652.0 L224.0,652.0 L224.5,652.0 L225.0,652.0 L225.5,652.0 L226.0,652.0 L226.5,652.0 L227.0,652.0 L227.5,652.0 L228.0,652.0 L228.5,652.0 L229.0,652.0 L229.5,652.0 L230.0,652.0 L230.5,652.0 L231.0,652.0 L231.5,652.0 L232.0,652.0 L232.5,652.0 L233.0,652.0 L233.5,652.0 L234.0,652.0 L234.5,652.0 L235.0,652.0 L235.5,652.0 L236.0,652.0 L236.5,652.0 L237.0,652.0 L237.5,652.0 L238.0,652.0 L238.5,652.0 L239.0,652.0 L239.5,652.0 L240.0,652.0 L240.5,652.0 L241.0,652.0 L241.5,652.0 L242.0,652.0 L242.5,652.0 L243.0,652.0 L243.5,652.0 L244.0,652.0 L244.5,652.0 L245.0,652.0 L245.5,652.0 L246.0,652.0 L246.5,652.0 L247.0,652.0 L247.5,652.0 L248.0,652.0 L248.5,652.0 L249.0,652.0 L249.5,652.0 L250.0,652.0 L250.5,652.0 L251.0,652.0 L251.5,652.0 L252.0,652.0 L252.5,652.0 L253.0,652.0 L253.5,652.0 L254.0,652.0 L254.5,652.0 L255.0,652.0 L255.5,652.0 L256.0,652.0 L256.5,652.0 L257.0,652.0 L257.5,652.0 L258.0,652.0 L258.5,652.0 L259.0,652.0 L259.5,652.0 L260.0,652.0 L260.5,652.0 L261.0,652.0 L261.5,652.0 L262.0,652.0 L262.5,652.0 L263.0,652.0 L263.5,652.0 L264.0,652.0 L264.5,652.0 L265.0,652.0 L265.5,652.0 L266.0,652.0 L266.5,652.0 L267.0,652.0 L267.5,652.0 L268.0,652.0 L268.5,652.0 L269.0,652.0 L269.5,652.0 L270.0,652.0 L270.5,652.0 L271.0,652.0 L271.5,652.0 L272.0,652.0 L272.5,652.0 L273.0,652.0 L273.5,652.0 L274.0,652.0 L274.5,652.0 L275.0,652.0 L275.5,652.0 L276.0,652.0 L276.5,652.0 L277.0,652.0 L277.5,652.0 L278.0,652.0 L278.5,652.0 L279.0,652.0 L279.5,652.0 L280.0,652.0 L280.5,652.0 L281.0,652.0 L281.5,652.0 L282.0,652.0 L282.5,652.0 L283.0,652.0 L283.5,652.0 L284.0,652.0 L284.5,652.0 L285.0,652.0 L285.5,652.0 L286.0,652.0 L286.5,652.0 L287.0,652.0 L287.5,652.0 L288.0,652.0 L288.5,652.0 L289.0,652.0 L289.5,652.0 L290.0,652.0 L290.5,652.0 L291.0,652.0 L291.5,652.0 L292.0,652.0 L292.5,652.0 L293.0,652.0 L293.5,652.0 L294.0,652.0 L294.5,652.0 L295.0,652.0 L295.5,652.0 L296.0,652.0 L296.5,652.0 L297.0,652.0 L297.5,652.0 L298.0,652.0 L298.5,652.0 L299.0,652.0 L299.5,652.0 L300.0,652.0 L300.5,652.0 L301.0,652.0 L301.5,652.0 L302.0,652.0 L302.5,652.0 L303.0,652.0 L303.5,652.0 L304.0,652.0 L304.5,652.0 L305.0,652.0 L305.5,652.0 L306.0,652.0 L306.5,652.0 L307.0,652.0 L307.5,652.0 L308.0,652.0 L308.5,652.0 L309.0,652.0 L309.5,652.0 L310.0,652.0 L310.5,652.0 L311.0,652.0 L311.5,652.0 L312.0,652.0 L312.5,652.0 L313.0,652.0 L313.5,652.0 L314.0,652.0 L314.5,652.0 L315.0,652.0 L315.5,652.0 L316.0,652.0 L316.5,652.0 L317.0,652.0 L317.5,652.0 L318.0,652.0 L318.5,652.0 L319.0,652.0 L319.5,652.0 L320.0,652.0 L320.5,652.0 L321.0,652.0 L321.5,652.0 L322.0,652.0 L322.5,652.0 L323.0,652.0 L323.5,652.0 L324.0,652.0 L324.5,652.0 L325.0,652.0 L325.5,652.0 L326.0,652.0 L326.5,652.0 L327.0,652.0 L327.5,652.0 L328.0,652.0 L328.5,652.0 L329.0,652.0 L329.5,652.0 L330.0,652.0 L330.5,652.0 L331.0,652.0 L331.5,652.0 L332.0,652.0 L332.5,652.0 L333.0,652.0 L333.5,652.0 L334.0,652.0 L334.5,652.0 L335.0,652.0 L335.5,652.0 L336.0,652.0 L336.5,652.0 L337.0,652.0 L337.5,652.0 L338.0,652.0 L338.5,652.0 L339.0,652.0 L339.5,652.0 L340.0,652.0 L340.5,652.0 L341.0,652.0 L341.5,652.0 L342.0,652.0 L342.5,652.0 L343.0,652.0 L343.5,652.0 L344.0,652.0 L344.5,652.0 L345.0,652.0 L345.5,652.0 L346.0,652.0 L346.5,652.0 L347.0,652.0 L347.5,652.0 L348.0,652.0 L348.5,652.0 L349.0,652.0 L349.5,652.0 L350.0,652.0 L350.5,652.0 L351.0,652.0 L351.5,652.0 L352.0,652.0 L352.5,652.0 L353.0,652.0 L353.5,652.0 L354.0,652.0 L354.5,652.0 L355.0,652.0 L355.5,652.0 L356.0,652.0 L356.5,652.0 L357.0,652.0 L357.5,652.0 L358.0,652.0 L358.5,652.0 L359.0,652.0 L359.5,652.0 L360.0,652.0 L360.5,652.0 L361.0,652.0 L361.5,652.0 L362.0,652.0 L362.5,652.0 L363.0,652.0 L363.5,652.0 L364.0,652.0 L364.5,652.0 L365.0,652.0 L365.5,652.0 L366.0,652.0 L366.5,652.0 L367.0,652.0 L367.5,652.0 L368.0,652.0 L368.5,652.0 L369.0,652.0 L369.5,652.0 L370.0,652.0 L370.5,652.0 L371.0,652.0 L371.5,652.0 L372.0,652.0 L372.5,652.0 L373.0,652.0 L373.5,652.0 L374.0,652.0 L374.5,652.0 L375.0,652.0 L375.5,652.0 L376.0,652.0 L376.5,652.0 L377.0,652.0 L377.5,652.0 L378.0,652.0 L378.5,652.0 L379.0,652.0 L379.5,652.0 L380.0,652.0 L380.5,652.0 L381.0,652.0 L381.5,652.0 L382.0,652.0 L382.5,652.0 L383.0,652.0 L383.5,652.0 L384.0,652.0 L384.5,652.0 L385.0,652.0 L385.5,652.0 L386.0,652.0 L386.5,652.0 L387.0,652.0 L387.5,652.0 L388.0,652.0 L388.5,652.0 L389.0,652.0 L389.5,652.0 L390.0,652.0 L390.5,652.0 L391.0,652.0 L391.5,652.0 L392.0,652.0 L392.5,652.0 L393.0,652.0 L393.5,652.0 L394.0,652.0 L394.5,652.0 L395.0,652.0 L395.5,652.0 L396.0,652.0 L396.5,652.0 L397.0,652.0 L397.5,652.0 L398.0,652.0 L398.5,652.0 L399.0,652.0 L399.5,652.0 L400.0,652.0 L400.5,652.0 L401.0,652.0 L401.5,652.0 L402.0,652.0 L402.5,652.0 L403.0,652.0 L403.5,652.0 L404.0,652.0 L404.5,652.0 L405.0,652.0 L405.5,652.0 L406.0,652.0 L406.5,652.0 L407.0,652.0 L407.5,652.0 L408.0,652.0 L408.5,652.0 L409.0,652.0 L409.5,652.0 L410.0,652.0 L410.5,652.0 L411.0,652.0 L411.5,652.0 L412.0,652.0 L412.5,652.0 L413.0,652.0 L413.5,652.0 L414.0,652.0 L414.5,652.0 L415.0,652.0 L415.5,652.0 L416.0,652.0 L416.5,652.0 L417.0,652.0 L417.5,652.0 L418.0,652.0 L418.5,652.0 L419.0,652.0 L419.5,652.0 L420.0,652.0 L420.5,652.0 L421.0,652.0 L421.5,652.0 L422.0,652.0 L422.5,652.0 L423.0,652.0 L423.5,652.0 L424.0,652.0 L424.5,652.0 L425.0,652.0 L425.5,652.0 L426.0,652.0 L426.5,652.0 L427.0,652.0 L427.5,652.0 L428.0,652.0 L428.5,652.0 L429.0,652.0 L429.5,652.0 L430.0,652.0 L430.5,652.0 L431.0,652.0 L431.5,652.0 L432.0,652.0 L432.5,652.0 L433.0,652.0 L433.5,652.0 L434.0,652.0 L434.5,652.0 L435.0,652.0 L435.5,652.0 L436.0,652.0 L436.5,652.0 L437.0,652.0 L437.5,652.0 L438.0,652.0 L438.5,652.0 L439.0,652.0 L439.5,652.0 L440.0,652.0 L440.5,652.0 L441.0,652.0 L441.5,652.0 L442.0,652.0 L442.5,652.0 L443.0,652.0 L443.5,652.0 L444.0,652.0 L444.5,652.0 L445.0,652.0 L445.5,652.0 L446.0,652.0 L446.5,652.0 L447.0,652.0 L447.5,652.0 L448.0,652.0 L448.5,652.0 L449.0,652.0 L449.5,652.0 L450.0,652.0 L450.5,652.0 L451.0,652.0 L451.5,652.0 L452.0,652.0 L452.5,652.0 L453.0,652.0 L453.5,652.0 L454.0,652.0 L454.5,652.0 L455.0,652.0 L455.5,652.0 L456.0,652.0 L456.5,652.0 L457.0,652.0 L457.5,652.0 L458.0,652.0 L458.5,652.0 L459.0,652.0 L459.5,652.0 L460.0,652.0 L460.5,652.0 L461.0,652.0 L461.5,652.0 L462.0,652.0 L462.5,652.0 L463.0,652.0 L463.5,652.0 L464.0,652.0 L464.5,652.0 L465.0,652.0 L465.5,652.0 L466.0,652.0 L466.5,652.0 L467.0,652.0 L467.5,652.0 L468.0,652.0 L468.5,652.0 L469.0,652.0 L469.5,652.0 L470.0,652.0 L470.5,652.0 L471.0,652.0 L471.5,652.0 L472.0,652.0 L472.5,652.0 L473.0,652.0 L473.5,652.0 L474.0,652.0 L474.5,652.0 L475.0,652.0 L475.5,652.0 L476.0,652.0 L476.5,652.0 L477.0,652.0 L477.5,652.0 L478.0,652.0 L478.5,652.0 L479.0,652.0 L479.5,652.0 L480.0,652.0 L480.5,652.0 L481.0,652.0 L481.5,652.0 L482.0,652.0 L482.5,652.0 L483.0,652.0 L483.5,652.0 L484.0,652.0 L484.5,652.0 L485.0,652.0 L485.5,652.0 L486.0,652.0 L486.5,652.0 L487.0,652.0 L487.5,652.0 L488.0,652.0 L488.5,652.0 L489.0,652.0 L489.5,652.0 L490.0,652.0 L490.5,652.0 L491.0,652.0 L491.5,652.0 L492.0,652.0 L492.5,652.0 L493.0,652.0 L493.5,652.0 L494.0,652.0 L494.5,652.0 L495.0,652.0 L495.5,652.0 L496.0,652.0 L496.5,652.0 L497.0,652.0 L497.5,652.0 L498.0,652.0 L498.5,652.0 L499.0,652.0 L499.5,652.0 L500.0,652.0 L500.5,652.0 L501.0,652.0 L501.5,652.0 L502.0,652.0 L502.5,652.0 L503.0,652.0 L503.5,652.0 L504.0,652.0 L504.5,652.0 L505.0,652.0 L505.5,652.0 L506.0,652.0 L506.5,652.0 L507.0,652.0 L507.5,652.0 L508.0,652.0 L508.5,652.0 L509.0,652.0 L509.5,652.0 L510.0,652.0 L510.5,652.0 L511.0,652.0 L511.5,652.0 L512.0,652.0 L512.5,652.0 L513.0,652.0 L513.5,652.0 L514.0,652.0 L514.5,652.0 L515.0,652.0 L515.5,652.0 L516.0,652.0 L516.5,652.0 L517.0,652.0 L517.5,652.0 L518.0,652.0 L518.5,652.0 L519.0,652.0 L519.5,652.0 L520.0,652.0 L520.5,652.0 L521.0,652.0 L521.5,652.0 L522.0,652.0 L522.5,652.0 L523.0,652.0 L523.5,652.0 L524.0,652.0 L524.5,652.0 L525.0,652.0 L525.5,652.0 L526.0,652.0 L526.5,652.0 L527.0,652.0 L527.5,652.0 L528.0,652.0 L528.5,652.0 L529.0,652.0 L529.5,652.0 L530.0,652.0 L530.5,652.0 L531.0,652.0 L531.5,652.0 L532.0,652.0 L532.5,652.0 L533.0,652.0 L533.5,652.0 L534.0,652.0 L534.5,652.0 L535.0,652.0 L535.5,652.0 L536.0,652.0 L536.5,652.0 L537.0,652.0 L537.5,652.0 L538.0,652.0 L538.5,652.0 L539.0,652.0 L539.5,652.0 L540.0,652.0 L540.5,652.0 L541.0,652.0 L541.5,652.0 L542.0,652.0 L542.5,652.0 L543.0,652.0 L543.5,652.0 L544.0,652.0 L544.5,652.0 L545.0,652.0 L545.5,652.0 L546.0,652.0 L546.5,652.0 L547.0,652.0 L547.5,652.0 L548.0,652.0 L548.5,652.0 L549.0,652.0 L549.5,652.0 L550.0,652.0 L550.5,652.0 L551.0,652.0 L551.5,652.0 L552.0,652.0 L552.5,652.0 L553.0,652.0 L553.5,652.0 L554.0,652.0 L554.5,652.0 L555.0,652.0 L555.5,652.0 L556.0,652.0 L556.5,652.0 L557.0,652.0 L557.5,652.0 L558.0,652.0 L558.5,652.0 L559.0,652.0 L559.5,652.0 L560.0,652.0 L560.5,652.0 L561.0,652.0 L561.5,652.0 L562.0,652.0 L562.5,652.0 L563.0,652.0 L563.5,652.0 L564.0,652.0 L564.5,652.0 L565.0,652.0 L565.5,652.0 L566.0,652.0 L566.5,652.0 L567.0,652.0 L567.5,652.0 L568.0,652.0 L568.5,652.0 L569.0,652.0 L569.5,652.0 L570.0,652.0 L570.5,652.0 L571.0,652.0 L571.5,652.0 L572.0,652.0 L572.5,652.0 L573.0,652.0 L573.5,652.0 L574.0,652.0 L574.5,652.0 L575.0,652.0 L575.5,652.0 L576.0,652.0 L576.5,652.0 L577.0,652.0 L577.5,652.0 L578.0,652.0 L578.5,652.0 L579.0,652.0 L579.5,652.0 L580.0,652.0 L580.5,652.0 L581.0,652.0 L581.5,652.0 L582.0,652.0 L582.5,652.0 L583.0,652.0 L583.5,652.0 L584.0,652.0 L584.5,652.0 L585.0,652.0 L585.5,652.0 L586.0,652.0 L586.5,652.0 L587.0,652.0 L587.5,652.0 L588.0,652.0 L588.5,652.0 L589.0,652.0 L589.5,652.0 L590.0,652.0 L590.5,652.0 L591.0,652.0 L591.5,652.0 L592.0,652.0 L592.5,652.0 L593.0,652.0 L593.5,652.0 L594.0,652.0 L594.5,652.0 L595.0,652.0 L595.5,652.0 L596.0,652.0 L596.5,652.0 L597.0,652.0 L597.5,652.0 L598.0,652.0 L598.5,652.0 L599.0,652.0 L599.5,652.0 L600.0,652.0 L600.5,652.0 L601.0,652.0 L601.5,652.0 L602.0,652.0 L602.5,652.0 L603.0,652.0 L603.5,652.0 L604.0,652.0 L604.5,652.0 L605.0,652.0 L605.5,652.0 L606.0,652.0 L606.5,652.0 L607.0,652.0 L607.5,652.0 L608.0,652.0 L608.5,652.0 L609.0,652.0 L609.5,652.0 L610.0,652.0 L610.5,652.0 L611.0,652.0 L611.5,652.0 L612.0,652.0 L612.5,652.0 L613.0,652.0 L613.5,652.0 L614.0,652.0 L614.5,652.0 L615.0,652.0 L615.5,652.0 L616.0,652.0 L616.5,652.0 L617.0,652.0 L617.5,652.0 L618.0,652.0 L618.5,652.0 L619.0,652.0 L619.5,652.0 L620.0,652.0 L620.5,652.0 L621.0,652.0 L621.5,652.0 L622.0,652.0 L622.5,652.0 L623.0,652.0 L623.5,652.0 L624.0,652.0 L624.5,652.0 L625.0,652.0 L625.5,652.0 L626.0,652.0 L626.5,652.0 L627.0,652.0 L627.5,652.0 L628.0,652.0 L628.5,652.0 L629.0,652.0 L629.5,652.0 L630.0,652.0 L630.5,652.0 L631.0,652.0 L631.5,652.0 L632.0,652.0 L632.5,652.0 L633.0,652.0 L633.5,652.0 L634.0,652.0 L634.5,652.0 L635.0,652.0 L635.5,652.0 L636.0,652.0 L636.5,652.0 L637.0,652.0 L637.5,652.0 L638.0,652.0 L638.5,652.0 L639.0,652.0 L639.5,652.0 L640.0,652.0 L640.5,652.0 L641.0,652.0 L641.5,652.0 L642.0,652.0 L642.5,652.0 L643.0,652.0 L643.5,652.0 L644.0,652.0 L644.5,652.0 L645.0,652.0 L645.5,652.0 L646.0,652.0 L646.5,652.0 L647.0,652.0 L647.5,652.0 L648.0,652.0 L648.5,652.0 L649.0,652.0 L649.5,652.0 L650.0,652.0 L650.5,652.0 L651.0,652.0 L651.5,652.0 L652.0,652.0 L652.5,652.0 L653.0,652.0 L653.5,652.0 L654.0,652.0 L654.5,652.0 L655.0,652.0 L655.5,652.0 L656.0,652.0 L656.5,652.0 L657.0,652.0 L657.5,652.0 L658.0,652.0 L658.5,652.0 L659.0,652.0 L659.5,652.0 L660.0,652.0 L660.5,652.0 L661.0,652.0 L661.5,652.0 L662.0,652.0 L662.5,652.0 L663.0,652.0 L663.5,652.0 L664.0,652.0 L664.5,652.0 L665.0,652.0 L665.5,652.0 L666.0,652.0 L666.5,652.0 L667.0,652.0 L667.5,652.0 L668.0,652.0 L668.5,652.0 L669.0,652.0 L669.5,652.0 L670.0,652.0 L670.5,652.0 L671.0,652.0 L671.5,652.0 L672.0,652.0 L672.5,652.0 L673.0,652.0 L673.5,652.0 L674.0,652.0 L674.5,652.0 L675.0,652.0 L675.5,652.0 L676.0,652.0 L676.5,652.0 L677.0,652.0 L677.5,652.0 L678.0,652.0 L678.5,652.0 L679.0,652.0 L679.5,652.0 L680.0,652.0 L680.5,652.0 L681.0,652.0 L681.5,652.0 L682.0,652.0 L682.5,652.0 L683.0,652.0 L683.5,652.0 L684.0,652.0 L684.5,652.0 L685.0,652.0 L685.5,652.0 L686.0,652.0 L686.5,652.0 L687.0,652.0 L687.5,652.0 L688.0,652.0 L688.5,652.0 L689.0,652.0 L689.5,652.0 L690.0,652.0 L690.5,652.0 L691.0,652.0 L691.5,652.0 L692.0,652.0 L692.5,652.0 L693.0,652.0 L693.5,652.5 L694.0,652.7 L694.5,652.7 L695.0,652.7 L695.5,652.7 L696.0,652.7 L696.5,652.7 L697.0,652.7 L697.5,652.7 L698.0,652.7 L698.5,652.0 L699.0,652.0 L699.5,652.0 L700.0,652.0 L700.5,652.0 L701.0,652.0 L701.5,652.0 L702.0,652.0 L702.5,652.0 L703.0,652.0 L703.5,652.0 L704.0,652.0 L704.5,652.0 L705.0,652.0 L705.5,652.0 L706.0,652.0 L706.5,652.0 L707.0,652.0 L707.5,652.0 L708.0,652.0 L708.5,652.0 L709.0,652.0 L709.5,652.0 L710.0,652.0 L710.5,652.0 L711.0,652.0 L711.5,652.0 L712.0,652.0 L712.5,652.0 L713.0,652.0 L713.5,652.0 L714.0,652.0 L714.5,652.0 L715.0,652.0 L715.5,652.0 L716.0,652.0 L716.5,652.0 L717.0,652.0 L717.5,652.0 L718.0,652.0 L718.5,652.0 L719.0,652.0 L719.5,652.0 L720.0,652.0 L720.5,652.0 L721.0,652.0 L721.5,652.0 L722.0,652.0 L722.5,652.0 L723.0,652.0 L723.5,652.0 L724.0,652.0 L724.5,652.0 L725.0,652.0 L725.5,652.0 L726.0,652.0 L726.5,652.0 L727.0,652.0 L727.5,652.0 L728.0,652.0 L728.5,652.0 L729.0,652.0 L729.5,652.0 L730.0,652.0 L730.5,652.0 L731.0,652.0 L731.5,652.0 L732.0,652.0 L732.5,652.0 L733.0,652.0 L733.5,652.0 L734.0,652.0 L734.5,652.0 L735.0,652.0 L735.5,652.0 L736.0,652.0 L736.5,652.0 L737.0,652.0 L737.5,652.0 L738.0,652.0 L738.5,652.0 L739.0,652.0 L739.5,652.0 L740.0,652.0 L740.5,652.0 L741.0,652.0 L741.5,652.0 L742.0,652.0 L742.5,652.0 L743.0,652.0 L743.5,652.0 L744.0,652.0 L744.5,652.0 L745.0,652.0 L745.5,652.0 L746.0,652.0 L746.5,652.0 L747.0,652.0 L747.5,652.0 L748.0,652.0 L748.5,652.0 L749.0,652.0 L749.5,652.0 L750.0,652.0 L750.5,652.0 L751.0,652.0 L751.5,652.0 L752.0,652.0 L752.5,652.0 L753.0,652.0 L753.5,652.0 L754.0,652.0 L754.5,652.0 L755.0,652.0 L755.5,652.0 L756.0,652.0 L756.5,652.0 L757.0,652.0 L757.5,652.0 L758.0,652.0 L758.5,652.0 L759.0,652.0 L759.5,652.0 L760.0,652.0 L760.5,652.0 L761.0,652.0 L761.5,652.0 L762.0,652.0 L762.5,652.0 L763.0,652.0 L763.5,652.0 L764.0,652.0 L764.5,652.0 L765.0,652.0 L765.5,652.0 L766.0,652.0 L766.5,652.0 L767.0,652.0 L767.5,652.0 L768.0,652.0 L768.5,652.0 L769.0,652.0 L769.5,652.0 L770.0,652.0 L770.5,652.0 L771.0,652.0 L771.5,652.0 L772.0,652.0 L772.5,652.0 L773.0,652.0 L773.5,652.0 L774.0,652.0 L774.5,652.0 L775.0,652.0 L775.5,652.0 L776.0,652.0 L776.5,652.0 L777.0,652.0 L777.5,652.0 L778.0,652.0 L778.5,652.0 L779.0,652.0 L779.5,652.0 L780.0,652.0 L780.5,652.0 L781.0,652.0 L781.5,652.0 L782.0,652.0 L782.5,652.0 L783.0,652.0 L783.5,652.0 L784.0,652.0 L784.5,652.0 L785.0,652.0 L785.5,652.0 L786.0,652.0 L786.5,652.0 L787.0,652.0 L787.5,652.0 L788.0,652.0 L788.5,652.0 L789.0,652.0 L789.5,652.0 L790.0,652.0 L790.5,652.0 L791.0,652.0 L791.5,652.0 L792.0,652.0 L792.5,652.0 L793.0,652.0 L793.5,652.0 L794.0,652.0 L794.5,652.0 L795.0,652.0 L795.5,652.0 L796.0,652.0 L796.5,652.0 L797.0,652.0 L797.5,652.0 L798.0,652.0 L798.5,652.0 L799.0,652.0 L799.5,652.0 L800.0,652.0 L800.5,652.0 L801.0,652.0 L801.5,652.0 L802.0,652.0 L802.5,652.0 L803.0,652.0 L803.5,652.0 L804.0,652.0 L804.5,652.0 L805.0,652.0 L805.5,652.0 L806.0,652.0 L806.5,652.0 L807.0,652.0 L807.5,652.0 L808.0,652.0 L808.5,652.0 L809.0,652.0 L809.5,652.0 L810.0,652.0 L810.5,652.0 L811.0,652.0 L811.5,652.0 L812.0,652.0 L812.5,652.0 L813.0,652.0 L813.5,652.0 L814.0,652.0 L814.5,652.0 L815.0,652.0 L815.5,652.0 L816.0,652.0 L816.5,652.0 L817.0,652.0 L817.5,652.0 L818.0,652.8 L818.5,653.8 L819.0,654.9 L819.5,655.1 L820.0,655.2 L820.5,655.4 L821.0,655.6 L821.5,655.6 L822.0,655.5 L822.5,655.5 L823.0,655.4 L823.5,655.4 L824.0,654.7 L824.5,653.9 L825.0,653.2 L825.5,652.5 L826.0,652.0 L826.5,652.0 L827.0,652.0 L827.5,652.0 L828.0,652.0 L828.5,652.0 L829.0,652.0 L829.5,652.0 L830.0,652.0 L830.5,652.0 L831.0,652.0 L831.5,652.0 L832.0,652.0 L832.5,652.0 L833.0,652.0 L833.5,652.0 L834.0,652.0 L834.5,652.0 L835.0,652.0 L835.5,652.0 L836.0,652.0 L836.5,652.0 L837.0,652.0 L837.5,652.0 L838.0,652.0 L838.5,652.0 L839.0,652.0 L839.5,652.0 L840.0,652.0 L840.5,652.0 L841.0,652.0 L841.5,652.0 L842.0,652.0 L842.5,652.0 L843.0,652.0 L843.5,652.0 L844.0,652.0 L844.5,652.0 L845.0,652.0 L845.5,652.0 L846.0,652.0 L846.5,652.0 L847.0,652.0 L847.5,652.0 L848.0,652.0 L848.5,652.0 L849.0,652.0 L849.5,652.0 L850.0,652.0 L850.5,652.0 L851.0,652.0 L851.5,652.0 L852.0,652.0 L852.5,652.0 L853.0,652.0 L853.5,652.0 L854.0,652.0 L854.5,652.0 L855.0,652.0 L855.5,652.0 L856.0,652.0 L856.5,652.0 L857.0,652.0 L857.5,652.0 L858.0,652.0 L858.5,652.0 L859.0,652.0 L859.5,652.0 L860.0,652.0 L860.5,652.0 L861.0,652.0 L861.5,652.0 L862.0,652.0 L862.5,652.0 L863.0,652.0 L863.5,652.0 L864.0,652.0 L864.5,652.0 L865.0,652.0 L865.5,652.0 L866.0,652.0 L866.5,652.0 L867.0,652.0 L867.5,652.0 L868.0,652.0 L868.5,652.0 L869.0,652.0 L869.5,652.0 L870.0,652.0 L870.5,652.0 L871.0,652.0 L871.5,652.0 L872.0,652.0 L872.5,652.0 L873.0,652.0 L873.5,652.0 L874.0,652.0 L874.5,652.0 L875.0,652.0 L875.5,652.0 L876.0,652.0 L876.5,652.0 L877.0,652.0 L877.5,652.0 L878.0,652.0 L878.5,652.0 L879.0,652.0 L879.5,652.0 L880.0,652.0 L880.5,652.0 L881.0,652.0 L881.5,652.0 L882.0,652.0 L882.5,652.0 L883.0,652.0 L883.5,652.0 L884.0,652.0 L884.5,652.0 L885.0,652.0 L885.5,652.0 L886.0,652.0 L886.5,652.0 L887.0,652.0 L887.5,652.0 L888.0,652.0 L888.5,652.0 L889.0,652.0 L889.5,652.0 L890.0,652.0 L890.5,652.0 L891.0,652.0 L891.5,652.0 L892.0,652.0 L892.5,652.0 L893.0,652.0 L893.5,652.0 L894.0,652.0 L894.5,652.0 L895.0,652.0 L895.5,652.0 L896.0,652.0 L896.5,652.0 L897.0,652.0 L897.5,652.0 L898.0,652.0 L898.5,652.0 L899.0,652.0 L899.5,652.0 L900.0,652.0 L900.5,652.0 L901.0,652.0 L901.5,652.0 L902.0,652.0 L902.5,652.0 L903.0,652.0 L903.5,652.0 L904.0,652.0 L904.5,652.0 L905.0,652.0 L905.5,652.0 L906.0,652.0 L906.5,652.0 L907.0,652.0 L907.5,652.0 L908.0,652.0 L908.5,652.0 L909.0,652.0 L909.5,652.0 L910.0,652.0 L910.5,652.0 L911.0,652.0 L911.5,652.0 L912.0,652.0 L912.5,652.0 L913.0,652.0 L913.5,652.0 L914.0,652.0 L914.5,652.0 L915.0,652.0 L915.5,652.0 L916.0,652.0 L916.5,652.0 L917.0,652.0 L917.5,652.0 L918.0,652.0 L918.5,652.0 L919.0,652.0 L919.5,652.0 L920.0,652.0 L920.5,652.0 L921.0,652.0 L921.5,652.0 L922.0,652.0 L922.5,652.0 L923.0,652.0 L923.5,652.0 L924.0,652.0 L924.5,652.0 L925.0,652.0 L925.5,652.0 L926.0,652.0 L926.5,652.0 L927.0,652.0 L927.5,652.0 L928.0,652.0 L928.5,652.0 L929.0,652.0 L929.5,652.0 L930.0,652.0 L930.5,652.0 L931.0,652.0 L931.5,652.0 L932.0,652.0 L932.5,652.0 L933.0,652.0 L933.5,652.0 L934.0,652.0 L934.5,652.0 L935.0,652.0 L935.5,652.0 L936.0,652.0 L936.5,652.0 L937.0,652.0 L937.5,652.0 L938.0,652.0 L938.5,652.0 L939.0,652.0 L939.5,652.0 L940.0,652.0 L940.5,652.0 L941.0,652.0 L941.5,652.0 L942.0,652.0 L942.5,652.0 L943.0,652.0 L943.5,652.0 L944.0,652.0 L944.5,652.0 L945.0,652.0 L945.5,652.0 L946.0,652.0 L946.5,652.0 L947.0,652.0 L947.5,652.0 L948.0,652.0 L948.5,652.0 L949.0,652.0 L949.5,652.0 L950.0,652.0 L950.5,652.0 L951.0,652.0 L951.5,652.0 L952.0,652.0 L952.5,652.0 L953.0,652.0 L953.5,652.0 L954.0,652.0 L954.5,652.0 L955.0,652.0 L955.5,652.0 L956.0,652.0 L956.5,652.0 L957.0,652.0 L957.5,652.0 L958.0,652.0 L958.5,652.0 L959.0,652.0 L959.5,652.0 L960.0,652.0 L960.5,652.0 L961.0,652.0 L961.5,652.0 L962.0,652.0 L962.5,652.0 L963.0,652.0 L963.5,652.0 L964.0,652.0 L964.5,652.0 L965.0,652.0 L965.5,652.0 L966.0,652.0 L966.5,652.0 L967.0,652.0 L967.5,652.0 L968.0,652.0 L968.5,652.0 L969.0,652.0 L969.5,652.0 L970.0,652.0 L970.5,652.0 L971.0,652.0 L971.5,652.0 L972.0,652.0 L972.5,652.0 L973.0,652.0 L973.5,652.0 L974.0,652.0 L974.5,652.0 L975.0,652.0 L975.5,652.0 L976.0,652.0 L976.5,652.0 L977.0,652.0 L977.5,652.0 L978.0,652.0 L978.5,652.0 L979.0,652.0 L979.5,652.0 L980.0,652.0 L980.5,652.0 L981.0,652.0 L981.5,652.0 L982.0,652.0 L982.5,652.0 L983.0,652.0 L983.5,652.0 L984.0,652.0 L984.5,652.0 L985.0,652.0 L985.5,652.0 L986.0,652.0 L986.5,652.0 L987.0,652.0 L987.5,652.0 L988.0,652.0 L988.5,652.0 L989.0,652.0 L989.5,652.0 L990.0,652.0 L990.5,652.0 L991.0,652.0 L991.5,652.0 L992.0,652.0 L992.5,652.0 L993.0,652.0 L993.5,652.0 L994.0,652.0 L994.5,652.0 L995.0,652.0 L995.5,652.0 L996.0,652.0 L996.5,652.0 L997.0,652.0 L997.5,652.0 L998.0,652.0 L998.5,652.0 L999.0,652.0 L999.5,652.0 L1000.0,652.0 L1000.5,652.0 L1001.0,652.0 L1001.5,652.0 L1002.0,652.0 L1002.5,652.0 L1003.0,652.0 L1003.5,652.0 L1004.0,652.0 L1004.5,652.0 L1005.0,652.0 L1005.5,652.0 L1006.0,652.0 L1006.5,652.0 L1007.0,652.0 L1007.5,652.0 L1008.0,652.0 L1008.5,652.0 L1009.0,652.0 L1009.5,652.0 L1010.0,652.0 L1010.5,652.0 L1011.0,652.0 L1011.5,652.0 L1012.0,652.0 L1012.5,652.0 L1013.0,652.0 L1013.5,652.0 L1014.0,652.0 L1014.5,652.0 L1015.0,652.0 L1015.5,652.0 L1016.0,652.0 L1016.5,652.0 L1017.0,652.0 L1017.5,652.0 L1018.0,652.0 L1018.5,652.0 L1019.0,652.0 L1019.5,652.0 L1020.0,652.0 L1020.5,652.0 L1021.0,652.0 L1021.5,652.0 L1022.0,652.0 L1022.5,652.0 L1023.0,652.0 L1023.5,652.0 L1024.0,652.0 L1024,652.0 Z" fill="#d30015"/>
<rect x="58.9" y="651.9" width="965.1" height="1.1" fill="#f7bcc5"/>
<path d="M59.0,109.6 L82.1,109.6 L83.6,121.0 L97.6,121.0 L99.5,134.8 L105.2,134.8 L107.1,148.0 L113.3,148.0 L114.8,156.5 L116.5,143.3 L132.8,143.3 L134.3,138.5 L146.4,138.5 L148.3,161.8 L152.1,161.8 L153.6,184.1 L167.6,184.1 L169.5,198.1 L177.5,198.1 L179.4,215.7 L181.2,215.7 L183.1,245.4 L185.0,245.4 L186.9,278.8 L195.0,278.8 L196.7,293.0 L200.1,293.0 L202.6,297.7 L204.8,297.7 L206.3,267.9 L229.8,267.9 L231.7,261.5 L247.4,261.5 L249.2,266.0 L259.3,266.0 L261.0,290.6 L271.0,290.6 L272.9,281.9 L300.3,281.9 L303.5,274.7 L311.6,274.7 L313.5,235.9 L331.5,235.9 L333.4,234.0 L336.8,234.0 L338.7,238.6 L350.4,238.6 L352.9,252.0 L356.1,252.0 L358.3,313.8 L361.7,313.8 L363.6,285.5 L365.9,285.5 L367.8,256.2 L369.9,252.0 L375.5,252.0 L377.8,242.9 L379.7,242.9 L381.6,218.4 L383.5,211.7 L393.5,211.7 L395.2,220.2 L403.3,220.2 L405.2,252.0 L409.0,252.0 L410.9,267.5 L416.6,267.5 L418.6,283.6 L428.3,283.6 L430.4,306.6 L438.3,306.6 L440.2,313.4 L445.9,313.4 L447.8,290.2 L455.7,290.2 L457.6,320.0 L474.8,320.0 L476.7,240.7 L482.7,240.7 L484.6,252.0 L504.5,252.0 L506.4,270.3 L508.2,270.3 L510.1,290.2 L531.4,290.2 L533.2,264.6 L535.1,288.4 L541.0,288.4 L542.9,279.1 L546.6,279.1 L548.5,245.1 L558.4,245.1 L560.2,225.2 L564.4,225.2 L566.3,218.0 L570.1,218.0 L572.0,206.7 L574.2,206.7 L575.9,175.7 L577.6,184.0 L590.1,184.0 L592.0,190.6 L597.1,190.6 L599.4,197.8 L609.0,197.8 L610.9,193.1 L613.2,193.1 L615.1,204.4 L617.0,204.4 L618.8,206.7 L624.5,206.7 L626.8,211.6 L632.5,211.6 L634.3,195.0 L638.7,195.0 L641.0,206.7 L646.3,206.7 L648.1,242.6 L651.9,242.6 L653.8,249.8 L655.2,257.6 L656.3,257.6 L657.6,245.1 L671.4,245.1 L673.7,247.9 L675.9,245.1 L681.3,245.1 L683.4,252.3 L685.8,270.8 L687.7,279.3 L689.2,279.3 L693.6,338.1 L698.0,338.1 L700.4,324.3 L709.9,324.3 L712.1,318.9 L714.0,324.3 L720.1,324.3 L722.0,320.2 L723.9,320.2 L725.7,317.7 L730.1,317.7 L732.0,327.4 L733.5,327.4 L735.2,334.4 L736.3,334.4 L737.7,316.4 L739.5,320.2 L740.9,318.3 L743.3,318.3 L745.2,299.4 L748.1,299.4 L749.6,302.2 L751.5,297.1 L753.3,297.1 L755.2,290.9 L757.5,290.9 L759.4,276.7 L762.2,266.3 L763.6,266.3 L766.0,286.2 L768.8,307.0 L771.1,307.0 L772.6,302.2 L778.3,299.4 L780.2,289.0 L782.0,283.5 L786.4,283.5 L788.2,287.9 L792.4,287.9 L794.3,297.4 L796.2,317.8 L798.1,340.0 L800.0,340.0 L801.9,324.4 L805.6,324.4 L809.4,320.6 L811.3,316.4 L813.2,306.4 L815.5,303.2 L818.9,303.2 L821.3,305.9 L823.0,305.9 L826.5,312.0 L828.3,324.0 L830.2,289.0 L832.4,261.0 L834.7,245.6 L836.8,242.8 L839.0,245.3 L841.2,245.3 L843.1,240.0 L845.0,247.6 L846.5,235.3 L848.4,226.2 L850.3,243.8 L852.3,241.0 L854.1,234.0 L858.5,234.0 L860.3,236.4 L862.2,246.1 L864.3,253.2 L866.0,247.5 L869.8,258.0 L871.7,253.2 L874.3,251.6 L876.2,245.2 L878.1,232.4 L879.5,222.1 L881.4,219.9 L883.5,222.1 L885.2,244.8 L887.1,256.2 L889.5,260.9 L891.1,254.3 L893.3,271.3 L895.2,274.1 L898.4,277.0 L900.9,268.4 L902.8,276.0 L904.7,283.6 L909.4,283.6 L910.9,274.1 L914.1,277.9 L915.6,273.2 L917.3,273.2 L918.5,280.7 L920.7,280.7 L922.6,299.6 L926.8,299.6 L928.7,291.1 L930.6,287.4 L932.5,275.1 L934.0,270.3 L935.9,270.3 L937.8,263.7 L941.9,258.4 L943.4,242.6 L945.7,242.6 L947.6,240.7 L949.5,242.9 L951.9,240.1 L954.8,226.9 L958.5,226.9 L960.4,234.4 L962.3,240.1 L966.1,241.0 L967.6,231.6 L969.5,231.6 L973.7,226.9 L977.1,226.9 L977.8,235.0 L979.3,235.0 L980.9,210.8 L982.7,203.9 L984.6,214.6 L986.9,218.4 L989.2,226.9 L994.5,233.5 L996.0,223.1 L998.2,220.2 L1000.1,235.4 L1002.0,250.5 L1004.9,250.5 L1006.7,230.6 L1008.6,230.6 L1011.5,250.5 L1013.4,259.0 L1015.6,265.6 L1020.0,260.9 L1021.5,250.5 L1023.8,255.8" fill="none" stroke="#3b5998" stroke-width="3.4" stroke-linejoin="miter" stroke-miterlimit="4"/>
<path d="M59.0,553.3 L82.1,553.3 L84.0,550.6 L97.6,550.6 L99.5,537.4 L105.2,537.4 L107.1,514.5 L113.3,514.5 L116.5,478.2 L132.6,478.2 L134.5,460.2 L146.4,460.2 L148.3,442.3 L152.1,442.3 L153.4,419.4 L167.4,419.4 L169.3,397.1 L177.4,397.1 L179.3,365.5 L181.2,365.5 L183.1,342.8 L185.0,342.8 L186.9,333.7 L194.8,333.7 L196.7,319.7 L200.5,319.7 L202.0,315.4 L204.7,315.4 L206.5,331.5 L220.3,331.5 L221.9,337.1 L223.7,329.0 L230.4,329.0 L232.1,342.4 L255.3,342.4 L257.2,333.7 L259.1,333.7 L261.0,326.7 L270.8,326.7 L272.7,338.1 L299.7,338.1 L301.6,326.7 L303.5,324.5 L311.6,324.5 L313.5,335.8 L336.6,335.8 L338.9,338.1 L350.2,338.1 L352.3,330.9 L356.1,330.9 L358.0,326.2 L362.1,326.2 L364.0,313.0 L365.9,313.0 L367.8,329.0 L370.1,326.2 L375.4,326.2 L377.8,340.4 L379.7,340.4 L381.6,348.9 L383.3,342.3 L387.1,342.3 L389.5,360.8 L393.3,360.8 L395.2,357.9 L397.1,364.9 L399.0,358.3 L402.8,358.3 L405.0,376.7 L408.4,376.7 L410.7,381.0 L416.6,381.0 L418.8,392.7 L428.3,392.7 L430.2,351.7 L437.8,351.7 L439.6,354.0 L445.3,354.0 L447.2,347.0 L455.1,347.0 L457.6,381.0 L474.9,381.0 L476.9,319.6 L483.1,319.6 L485.0,342.3 L490.7,342.3 L492.6,358.3 L503.9,358.3 L505.8,347.0 L508.1,347.0 L509.6,354.0 L531.0,354.0 L532.9,332.3 L534.2,332.3 L535.5,365.0 L541.2,365.0 L543.1,369.5 L547.0,369.5 L548.9,387.5 L558.8,387.5 L560.6,406.0 L564.4,406.0 L566.3,414.5 L570.5,414.5 L572.4,428.1 L574.3,428.1 L578.6,437.6 L589.9,437.6 L591.8,430.2 L597.5,430.2 L600.0,442.5 L603.2,442.5 L605.4,434.9 L608.5,434.9 L610.7,432.9 L613.0,432.9 L615.1,440.0 L617.0,440.0 L618.9,430.6 L624.9,430.6 L626.8,422.1 L632.9,422.1 L634.7,403.6 L638.5,403.6 L640.4,398.8 L646.3,398.8 L648.5,408.5 L652.3,408.5 L654.6,401.3 L656.1,399.0 L658.0,392.4 L667.4,392.4 L669.7,389.9 L671.6,389.9 L673.5,392.6 L675.4,374.4 L681.6,374.4 L683.5,369.5 L686.9,349.9 L689.2,349.9 L691.5,341.7 L693.3,333.2 L698.1,333.2 L700.7,347.4 L710.4,347.4 L714.2,358.7 L719.8,358.7 L722.1,365.0 L724.2,365.0 L726.5,390.5 L728.4,403.7 L729.9,403.7 L731.8,428.3 L733.6,428.3 L735.9,437.8 L738.8,444.4 L741.6,448.7 L744.0,448.7 L745.9,430.6 L747.8,430.6 L749.5,435.9 L751.4,428.7 L752.9,428.7 L755.2,423.6 L757.7,423.6 L759.9,425.8 L762.8,418.8 L764.8,433.0 L767.1,433.0 L769.0,415.4 L770.9,415.4 L772.8,403.7 L778.4,403.7 L782.6,390.1 L792.6,390.1 L794.5,395.2 L796.4,388.6 L797.9,401.5 L800.2,401.5 L802.1,397.1 L804.0,397.1 L805.9,385.8 L807.8,385.8 L810.6,379.1 L812.5,370.6 L814.4,348.9 L816.3,322.0 L817.3,307.8 L819.0,283.2 L821.3,280.6 L823.5,283.2 L825.4,305.9 L827.3,326.7 L828.2,330.5 L829.6,330.5 L831.0,365.0 L832.9,365.0 L835.2,375.4 L837.1,396.2 L840.8,400.9 L842.7,398.4 L844.6,407.5 L847.1,414.7 L849.0,405.6 L850.7,400.3 L852.2,381.0 L854.6,387.7 L860.3,387.7 L862.2,383.5 L866.4,383.5 L870.1,376.3 L873.9,376.3 L875.8,369.7 L877.7,372.5 L879.2,356.5 L881.1,360.2 L883.5,360.2 L884.9,379.3 L886.8,379.3 L888.9,365.3 L890.7,367.5 L895.0,363.5 L897.9,362.1 L899.3,355.0 L901.0,343.4 L903.9,346.8 L907.3,344.6 L910.7,344.6 L913.3,339.1 L915.8,329.7 L918.4,315.7 L920.9,315.7 L922.7,322.9 L924.7,320.3 L928.6,320.3 L930.3,330.6 L934.3,337.7 L936.3,337.7 L938.0,334.0 L940.1,313.0 L942.3,312.3 L944.5,310.9 L948.2,310.9 L950.5,298.7 L952.5,298.7 L954.6,309.2 L956.3,314.0 L958.0,316.1 L959.7,322.0 L961.9,344.6 L965.3,344.6 L967.5,363.0 L969.1,367.3 L971.3,370.3 L973.3,378.7 L977.3,378.7 L979.0,362.1 L980.7,370.7 L984.4,363.0 L986.6,363.0 L989.2,367.6 L991.2,367.6 L993.5,363.8 L994.7,358.7 L996.0,339.1 L997.7,339.1 L998.9,345.1 L1000.3,358.7 L1001.7,358.7 L1002.8,354.5 L1004.6,354.5 L1006.3,334.8 L1008.0,300.7 L1010.0,290.5 L1014.8,290.5 L1016.0,304.0 L1017.5,295.6 L1020.2,302.1 L1021.6,322.9 L1023.3,328.0 L1024.0,328.8" fill="none" stroke="#d30015" stroke-width="3.4" stroke-linejoin="miter" stroke-miterlimit="4"/>
<g font-family="Liberation Sans, sans-serif" font-size="14.2" fill="#141414">
<text x="46.8" y="143.6" text-anchor="end">52</text>
<text x="46.8" y="188.8" text-anchor="end">50</text>
<text x="46.8" y="234.1" text-anchor="end">48</text>
<text x="46.8" y="279.3" text-anchor="end">46</text>
<text x="46.8" y="324.6" text-anchor="end">44</text>
<text x="46.8" y="369.8" text-anchor="end">42</text>
<text x="46.8" y="415.0" text-anchor="end">40</text>
<text x="46.8" y="460.3" text-anchor="end">38</text>
<text x="46.8" y="505.5" text-anchor="end">36</text>
<text x="46.8" y="550.8" text-anchor="end">34</text>
<text x="46.8" y="591.1" text-anchor="end">20</text>
<text x="46.8" y="607.4" text-anchor="end">15</text>
<text x="46.8" y="623.8" text-anchor="end">10</text>
<text x="46.8" y="640.3" text-anchor="end">5</text>
<text x="46.8" y="656.9" text-anchor="end">0</text>
</g>
<g font-family="Liberation Sans, sans-serif" font-size="15.2" fill="#141414">
<text x="237.6" y="686.8" text-anchor="middle" textLength="54.6" lengthAdjust="spacing">October</text>
<text x="416.8" y="686.8" text-anchor="middle" textLength="33.9" lengthAdjust="spacing">2016</text>
<text x="593.5" y="686.8" text-anchor="middle">April</text>
<text x="770.5" y="686.8" text-anchor="middle">July</text>
<text x="949.2" y="686.8" text-anchor="middle" textLength="54.6" lengthAdjust="spacing">October</text>
<clipPath id="cl"><rect x="58.5" y="660" width="100" height="40"/></clipPath>
<text x="57.9" y="686.8" text-anchor="middle" clip-path="url(#cl)">July</text>
</g>
<g font-family="Liberation Sans, sans-serif">
<text x="108.5" y="24.8" font-size="13.5" fill="#6b6b6b" textLength="125.2" lengthAdjust="spacing">RCP POLL AVERAGE</text>
<text x="108.6" y="49.8" font-size="18.6" fill="#141414" textLength="288.6" lengthAdjust="spacing">General Election: Trump vs. Clinton</text>
</g>
<rect x="878.5" y="5.5" width="177" height="67" fill="#fff" stroke="#c8c8c8" stroke-width="1"/>
<rect x="884" y="11" width="45" height="25" fill="#3b5998"/>
<rect x="884" y="41" width="45" height="25" fill="#d30015"/>
<g font-family="Liberation Sans, sans-serif">
<text x="889.9" y="29.7" font-size="14.8" fill="#fff" textLength="33.3" lengthAdjust="spacingAndGlyphs">46.8</text>
<text x="889.9" y="59.7" font-size="14.8" fill="#fff" textLength="33.3" lengthAdjust="spacingAndGlyphs">43.6</text>
<text x="935.4" y="29.9" font-size="18.3" fill="#141414" textLength="54.2" lengthAdjust="spacing">Clinton</text>
<text x="994.9" y="29.9" font-size="18.3" fill="#141414" textLength="23.5" lengthAdjust="spacing">(D)</text>
<text x="936" y="59.8" font-size="18.3" fill="#141414" textLength="49.1" lengthAdjust="spacing">Trump</text>
<text x="990.9" y="59.8" font-size="18.3" fill="#141414" textLength="22.3" lengthAdjust="spacing">(R)</text>
<text x="1023.8" y="30" font-size="11.6" font-weight="bold" fill="#3b5998" textLength="25.3" lengthAdjust="spacing">+3.2</text>
</g>
</svg>
<svg id="logo" viewBox="0 0 86 58">
<path d="M0,0 H74.5 L86,11 V40 H0 Z" fill="#d30015"/>
<path d="M74.5,0 L86,11 H74.5 Z" fill="#a8000f"/>
<rect x="0" y="39.8" width="86" height="18.2" fill="#000"/>
<g font-family="Liberation Serif, serif" fill="#fff">
<text x="3" y="22" font-size="19.5" textLength="45" lengthAdjust="spacingAndGlyphs">REAL</text>
<text x="2.5" y="38.6" font-size="19.5" textLength="57" lengthAdjust="spacingAndGlyphs">CLEAR</text>
<text x="2.7" y="55.5" font-size="20" textLength="80.5" lengthAdjust="spacingAndGlyphs">POLITICS</text>
</g></svg>
</body></html>
